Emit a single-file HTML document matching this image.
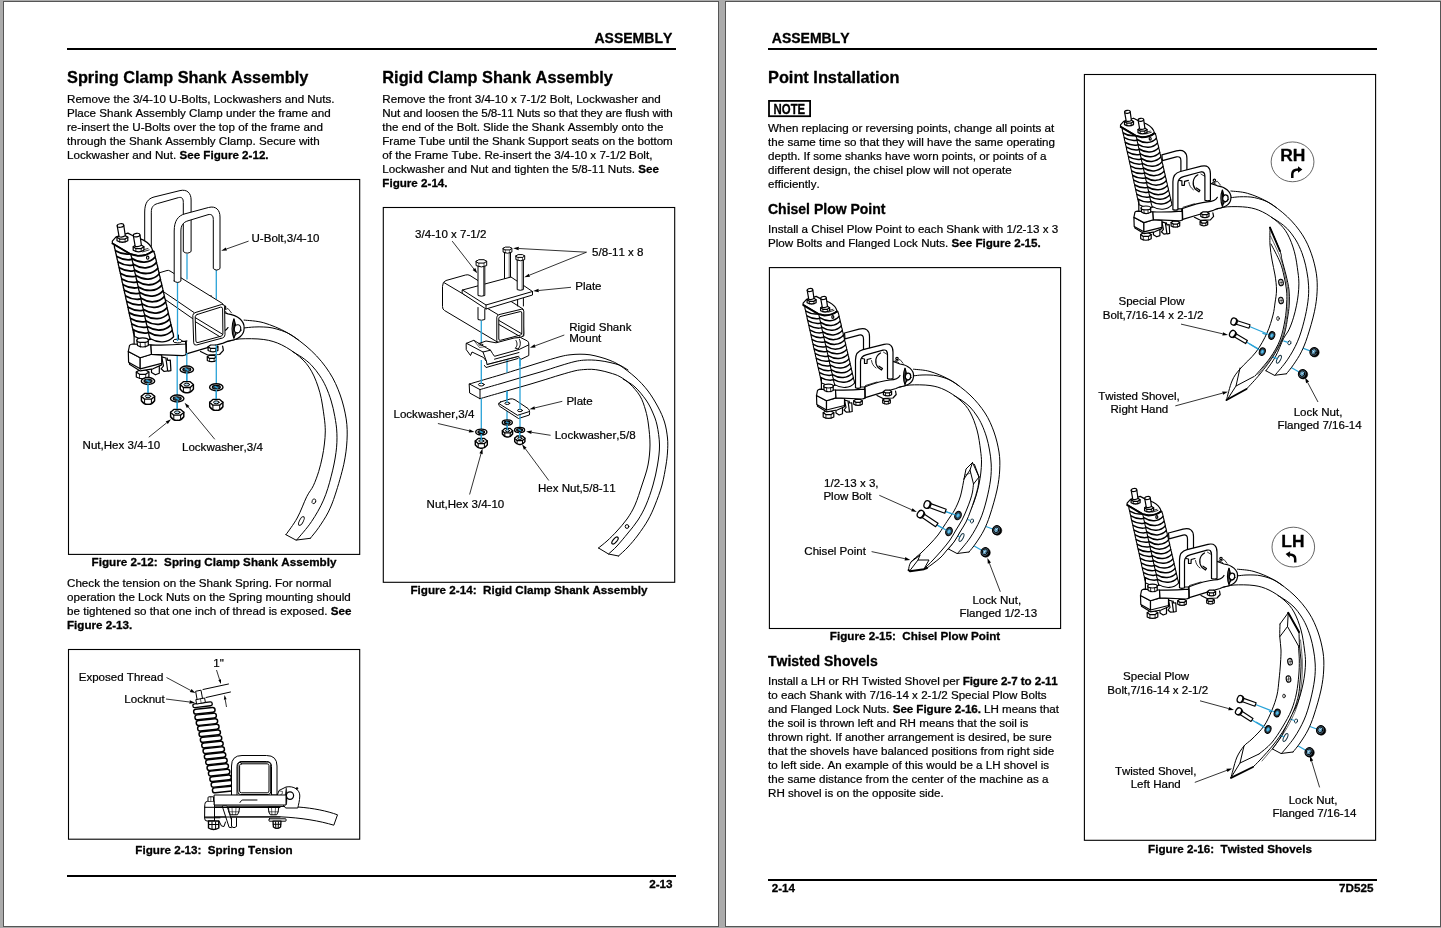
<!DOCTYPE html>
<html lang="en"><head><meta charset="utf-8"><title>Assembly 2-13 / 2-14</title>
<style>
html,body{margin:0;padding:0;background:#ababab;}
body{width:1441px;height:928px;overflow:hidden;}
svg{display:block;position:absolute;left:0;top:0;will-change:transform;}
text{font-family:"Liberation Sans",sans-serif;fill:#000;white-space:pre;font-kerning:none;stroke:#000;stroke-width:0.3px;stroke-linejoin:round;}
.b{font-size:11.63px;stroke-width:0.22px;}
.l{font-size:11.55px;stroke-width:0.22px;}
.bd{font-weight:bold;stroke-width:0.3px;}
.cap{font-size:11.66px;font-weight:bold;}
.h14{font-size:16.34px;font-weight:bold;}
.h12{font-size:14px;font-weight:bold;}
.note{font-size:14.2px;font-weight:bold;}
.h12s{font-size:14px;font-weight:bold;}
.rh{font-size:17.4px;font-weight:bold;}
.k{fill:none;stroke:#000;stroke-width:1;stroke-linecap:round;stroke-linejoin:round;}
.kw{fill:#fff;stroke:#000;stroke-width:1;stroke-linecap:round;stroke-linejoin:round;}
.kt{fill:none;stroke:#000;stroke-width:0.6;stroke-linecap:round;stroke-linejoin:round;}
.c{fill:none;stroke:#2aa3d8;stroke-width:1.3;}
.kb{fill:none;stroke:#000;stroke-width:1.9;stroke-linecap:round;stroke-linejoin:round;}
.kf{fill:#000;stroke:#000;stroke-width:0.5;}
.w{fill:#fff;stroke:none;}
.asm .k,.asm .kw{stroke-width:1.2;}
.asm .kt{stroke-width:0.8;}
.ld{fill:none;stroke:#000;stroke-width:0.8;}
.ah{fill:#000;stroke:none;}
</style></head>
<body>
<svg width="1441" height="928" viewBox="0 0 1441 928">
<rect x="0" y="0" width="1441" height="928" fill="#ababab"/>
<rect x="3.5" y="1.5" width="715" height="925" fill="#fff" stroke="#555" stroke-width="1"/>
<rect x="725.5" y="1.5" width="715" height="925" fill="#fff" stroke="#555" stroke-width="1"/>
<rect x="67" y="48.0" width="609" height="2" fill="#000"/>
<rect x="67" y="875.0" width="609" height="2" fill="#000"/>
<rect x="768" y="48.0" width="609" height="2" fill="#000"/>
<rect x="768" y="879.0" width="609" height="2" fill="#000"/>
<rect x="68.5" y="179.5" width="291.2" height="374.9" fill="none" stroke="#000" stroke-width="1.1"/>
<rect x="68.5" y="649.5" width="291.2" height="189.70000000000005" fill="none" stroke="#000" stroke-width="1.1"/>
<rect x="383.3" y="207.5" width="291.40000000000003" height="374.79999999999995" fill="none" stroke="#000" stroke-width="1.1"/>
<rect x="769.4" y="267.6" width="291.19999999999993" height="360.9" fill="none" stroke="#000" stroke-width="1.1"/>
<rect x="1084.4" y="74.5" width="291.1999999999998" height="765.8" fill="none" stroke="#000" stroke-width="1.1"/>
<text class="h12" x="672.3" y="43.1" text-anchor="end">ASSEMBLY</text>
<text class="h14" x="67" y="82.8">Spring Clamp Shank Assembly</text>
<text class="b" x="67" y="103.05">Remove the 3/4-10 U-Bolts, Lockwashers and Nuts.</text>
<text class="b" x="67" y="117.05">Place Shank Assembly Clamp under the frame and</text>
<text class="b" x="67" y="131.05">re-insert the U-Bolts over the top of the frame and</text>
<text class="b" x="67" y="145.05">through the Shank Assembly Clamp. Secure with</text>
<text class="b" x="67" y="159.05">Lockwasher and Nut. <tspan class="bd">See Figure 2-12.</tspan></text>
<text class="cap" x="214" y="565.9" text-anchor="middle">Figure 2-12:&#160; Spring Clamp Shank Assembly</text>
<text class="b" x="67" y="586.5">Check the tension on the Shank Spring. For normal</text>
<text class="b" x="67" y="600.5">operation the Lock Nuts on the Spring mounting should</text>
<text class="b" x="67" y="614.5">be tightened so that one inch of thread is exposed. <tspan class="bd">See</tspan></text>
<text class="b" x="67" y="628.5"><tspan class="bd">Figure 2-13.</tspan></text>
<text class="cap" x="214" y="854" text-anchor="middle">Figure 2-13:&#160; Spring Tension</text>
<text class="cap" x="672.6" y="887.8" text-anchor="end">2-13</text>
<text class="h14" x="382.3" y="82.8">Rigid Clamp Shank Assembly</text>
<text class="b" x="382.3" y="103.1">Remove the front 3/4-10 x 7-1/2 Bolt, Lockwasher and</text>
<text class="b" x="382.3" y="117.1" textLength="290.5" lengthAdjust="spacing">Nut and loosen the 5/8-11 Nuts so that they are flush with</text>
<text class="b" x="382.3" y="131.1">the end of the Bolt. Slide the Shank Assembly onto the</text>
<text class="b" x="382.3" y="145.1" textLength="290.5" lengthAdjust="spacing">Frame Tube until the Shank Support seats on the bottom</text>
<text class="b" x="382.3" y="159.1">of the Frame Tube. Re-insert the 3/4-10 x 7-1/2 Bolt,</text>
<text class="b" x="382.3" y="173.1">Lockwasher and Nut and tighten the 5/8-11 Nuts. <tspan class="bd">See</tspan></text>
<text class="b" x="382.3" y="187.1"><tspan class="bd">Figure 2-14.</tspan></text>
<text class="cap" x="529" y="594.1" text-anchor="middle">Figure 2-14:&#160; Rigid Clamp Shank Assembly</text>
<text class="l" x="251.5" y="242.3">U-Bolt,3/4-10</text>
<text class="l" x="82.6" y="448.8">Nut,Hex 3/4-10</text>
<text class="l" x="182" y="451">Lockwasher,3/4</text>
<text class="l" x="78.7" y="680.6">Exposed Thread</text>
<text class="l" x="124.3" y="702.6">Locknut</text>
<text class="l" x="213.3" y="666.8">1"</text>
<text class="l" x="415.1" y="238.2">3/4-10 x 7-1/2</text>
<text class="l" x="592.1" y="256">5/8-11 x 8</text>
<text class="l" x="575.2" y="290">Plate</text>
<text class="l" x="569.2" y="331">Rigid Shank</text>
<text class="l" x="569.2" y="342.1">Mount</text>
<text class="l" x="566.4" y="404.9">Plate</text>
<text class="l" x="393.5" y="418.1">Lockwasher,3/4</text>
<text class="l" x="554.7" y="438.9">Lockwasher,5/8</text>
<text class="l" x="537.9" y="491.8">Hex Nut,5/8-11</text>
<text class="l" x="426.6" y="507.7">Nut,Hex 3/4-10</text>
<text class="h12" x="771.8" y="43.2">ASSEMBLY</text>
<text class="h14" x="768" y="82.8">Point Installation</text>
<rect x="769" y="100.9" width="41.1" height="15.3" fill="none" stroke="#000" stroke-width="1.8"/>
<text class="note" x="773.6" y="113.9" textLength="31.6" lengthAdjust="spacingAndGlyphs">NOTE</text>
<text class="b" x="768" y="131.7">When replacing or reversing points, change all points at</text>
<text class="b" x="768" y="145.7">the same time so that they will have the same operating</text>
<text class="b" x="768" y="159.7">depth. If some shanks have worn points, or points of a</text>
<text class="b" x="768" y="173.7">different design, the chisel plow will not operate</text>
<text class="b" x="768" y="187.7">efficiently.</text>
<text class="h12s" x="768" y="213.7">Chisel Plow Point</text>
<text class="b" x="768" y="232.7">Install a Chisel Plow Point to each Shank with 1/2-13 x 3</text>
<text class="b" x="768" y="246.7">Plow Bolts and Flanged Lock Nuts. <tspan class="bd">See Figure 2-15.</tspan></text>
<text class="cap" x="915" y="639.8" text-anchor="middle">Figure 2-15:&#160; Chisel Plow Point</text>
<text class="h12s" x="768" y="665.7">Twisted Shovels</text>
<text class="b" x="768" y="684.6" textLength="289.8" lengthAdjust="spacing">Install a LH or RH Twisted Shovel per <tspan class="bd">Figure 2-7 to 2-11</tspan></text>
<text class="b" x="768" y="698.6">to each Shank with 7/16-14 x 2-1/2 Special Plow Bolts</text>
<text class="b" x="768" y="712.6" textLength="291.0" lengthAdjust="spacing">and Flanged Lock Nuts. <tspan class="bd">See Figure 2-16.</tspan> LH means that</text>
<text class="b" x="768" y="726.6">the soil is thrown left and RH means that the soil is</text>
<text class="b" x="768" y="740.6">thrown right. If another arrangement is desired, be sure</text>
<text class="b" x="768" y="754.6">that the shovels have balanced positions from right side</text>
<text class="b" x="768" y="768.6">to left side. An example of this would be a LH shovel is</text>
<text class="b" x="768" y="782.6">the same distance from the center of the machine as a</text>
<text class="b" x="768" y="796.6">RH shovel is on the opposite side.</text>
<text class="cap" x="1230" y="852.9" text-anchor="middle">Figure 2-16:&#160; Twisted Shovels</text>
<text class="cap" x="771.7" y="891.8">2-14</text>
<text class="cap" x="1373.4" y="891.8" text-anchor="end">7D525</text>
<text class="l" x="824" y="486.7">1/2-13 x 3,</text>
<text class="l" x="823.4" y="499.9">Plow Bolt</text>
<text class="l" x="804.3" y="555">Chisel Point</text>
<text class="l" x="972.4" y="604.4">Lock Nut,</text>
<text class="l" x="959.5" y="617.1">Flanged 1/2-13</text>
<text class="l" x="1118.5" y="304.9">Special Plow</text>
<text class="l" x="1102.7" y="318.9">Bolt,7/16-14 x 2-1/2</text>
<text class="l" x="1098.2" y="399.7">Twisted Shovel,</text>
<text class="l" x="1110.5" y="412.7">Right Hand</text>
<text class="l" x="1293.7" y="415.7">Lock Nut,</text>
<text class="l" x="1277.5" y="428.8">Flanged 7/16-14</text>
<text class="l" x="1123.1" y="679.8">Special Plow</text>
<text class="l" x="1107.3" y="693.7">Bolt,7/16-14 x 2-1/2</text>
<text class="l" x="1114.9" y="774.8">Twisted Shovel,</text>
<text class="l" x="1130.7" y="787.9">Left Hand</text>
<text class="l" x="1288.7" y="803.9">Lock Nut,</text>
<text class="l" x="1272.4" y="816.7">Flanged 7/16-14</text>
<ellipse cx="1292.55" cy="161.85" rx="21.4" ry="19.9" fill="#fff" stroke="#333" stroke-width="0.75"/>
<text class="rh" x="1292.8" y="161.0" text-anchor="middle">RH</text>
<ellipse cx="1293.3" cy="547.1" rx="21.3" ry="19.9" fill="#fff" stroke="#333" stroke-width="0.75"/>
<text class="rh" x="1292.9" y="546.6" text-anchor="middle">LH</text>
<!-- 10_fig12.svg -->
<path class="kw" d="M 144.7,246.0 L 144.7,212.0 C 144.7,203.0 148.0,198.6 154.0,197.0 L 180.0,190.6 C 187.0,189.0 191.1,193.0 191.1,200.0 L 191.1,251.5 Q 187.2,254.8 183.3,251.5 L 183.3,202.5 C 183.3,198.5 182.0,196.8 178.5,197.6 L 157.7,203.5 C 153.0,204.8 151.3,207.5 151.3,212.2 L 151.3,246.0 Z"/>
<path class="c" d="M 187.0,254.0 L 187.0,279.5"/>
<path class="w" d="M 244.1,320.1 L 263.8,322.8 L 287.7,333.0 L 311.5,350.9 L 329.4,372.4 L 340.2,395.0 L 346.2,418.9 L 347.0,440.4 L 343.8,464.3 L 335.4,494.1 L 328.3,512.1 L 318.7,527.6 L 310.3,538.3 L 296.0,540.1 L 285.9,534.7 L 297.2,518.0 L 306.8,496.5 L 313.3,485.8 L 318.7,471.5 L 322.3,457.1 L 324.4,444.0 L 325.3,430.9 L 324.1,416.5 L 319.9,392.7 L 311.5,371.2 L 299.6,356.8 L 281.7,344.9 L 263.8,339.5 L 239.9,338.9 L 227.4,341.6 Z"/>
<path class="k" d="M 244.1,320.1 C 247.4,320.5 256.5,320.7 263.8,322.8 C 271.0,325.0 279.7,328.3 287.7,333.0 C 295.6,337.6 304.6,344.3 311.5,350.9 C 318.5,357.4 324.7,365.0 329.4,372.4 C 334.2,379.7 337.4,387.3 340.2,395.0 C 343.0,402.8 345.0,411.4 346.2,418.9 C 347.3,426.5 347.4,432.9 347.0,440.4 C 346.6,448.0 345.7,455.3 343.8,464.3 C 341.8,473.3 338.0,486.2 335.4,494.1 C 332.8,502.1 331.0,506.5 328.3,512.1 C 325.5,517.6 321.7,523.2 318.7,527.6 C 315.7,532.0 311.7,536.5 310.3,538.3"/>
<path class="k" d="M 227.4,341.6 C 229.5,341.1 233.8,339.3 239.9,338.9 C 246.0,338.6 256.8,338.5 263.8,339.5 C 270.7,340.5 275.7,342.0 281.7,344.9 C 287.7,347.8 294.6,352.5 299.6,356.8 C 304.6,361.2 308.2,365.2 311.5,371.2 C 314.9,377.1 317.8,385.1 319.9,392.7 C 322.0,400.2 323.2,410.2 324.1,416.5 C 325.0,422.9 325.2,426.3 325.3,430.9 C 325.3,435.4 324.9,439.6 324.4,444.0 C 323.9,448.4 323.2,452.6 322.3,457.1 C 321.3,461.7 320.2,466.7 318.7,471.5 C 317.2,476.2 315.3,481.6 313.3,485.8 C 311.3,490.0 309.5,491.2 306.8,496.5 C 304.1,501.9 300.7,511.7 297.2,518.0 C 293.7,524.4 287.8,532.0 285.9,534.7"/>
<path class="k" d="M 292.4,351.5 C 294.0,352.5 298.8,355.1 302.0,357.4 C 305.2,359.7 308.6,362.1 311.5,365.2 C 314.5,368.3 317.5,372.4 319.9,375.9 C 322.3,379.5 324.0,382.5 325.9,386.7 C 327.8,390.9 329.7,396.0 331.2,401.0 C 332.7,406.0 333.9,411.2 334.8,416.5 C 335.8,421.9 336.7,427.3 336.9,433.3 C 337.1,439.2 337.0,445.2 336.0,452.4 C 335.1,459.5 333.3,468.3 331.2,476.2 C 329.2,484.2 326.8,492.6 323.5,500.1 C 320.2,507.7 316.0,514.9 311.5,521.6 C 307.1,528.3 299.1,537.0 296.6,540.1"/>
<path class="k" d="M 244.4,327.9 C 246.1,327.8 251.0,327.1 254.2,327.0 C 257.5,326.8 260.8,326.8 263.8,327.0 C 266.8,327.1 269.2,327.3 272.1,327.9 C 275.1,328.5 278.7,329.5 281.7,330.6 C 284.7,331.6 287.3,332.6 290.0,334.2 C 292.8,335.7 297.0,338.9 298.4,339.9"/>
<path class="k" d="M 310.3,538.3 L 296.0,540.1 L 285.9,534.7"/>
<ellipse class="k" cx="313.9" cy="501.3" rx="1.79" ry="2.51" transform="rotate(20 313.9 501.3)" style="fill:#fff;stroke-width:0.8"/>
<ellipse class="kw" cx="301.4" cy="521.0" rx="1.91" ry="4.78" transform="rotate(27 301.4 521.0)" style="stroke-width:0.9"/>
<g class="asm">
<path class="kw" d="M 185.6,341.3 L 178.4,341.3 L 178.4,303.1 L 211.2,295.9 L 216.0,309.1 L 220.8,311.2 L 228.0,313.9 C 237.5,315.1 244.7,321.0 244.1,328.2 C 244.1,335.3 238.7,339.5 228.0,341.1 L 223.2,343.1 L 204.1,348.7 L 185.6,354.2 Z"/>
<path class="k" d="M 204.7,300.7 C 198.1,304.3 197.5,312.7 201.7,318.0 L 205.9,321.0 L 207.1,319.2 L 202.9,316.5"/>
<path class="kt" d="M 193.9,309.7 C 194.5,313.9 196.3,316.5 199.3,318.6"/>
<path class="k" d="M 182.6,307.3 L 185.6,307.9 L 185.6,313.3 L 188.6,313.3 L 188.8,308.5 L 193.3,307.3"/>
<path class="kt" d="M 208.3,299.8 L 214.2,303.3"/>
<path class="kt" d="M 220.8,311.2 L 228.0,308.5 L 231.5,312.9"/>
<path class="k" d="M 185.6,341.3 C 198.1,336.5 207.7,333.6 216.0,333.0 C 222.0,332.7 226.2,331.2 228.0,327.6"/>
<path class="kt" d="M 186.8,339.5 L 200.5,335.3"/>
<path class="kw" d="M 233.9,318.9 L 235.5,324.6 L 235.8,333.0 L 233.9,338.3 C 231.5,333.0 231.5,324.6 233.9,318.9 Z"/>
<path class="kf" d="M 233.9,318.9 L 235.1,325.8 L 234.2,333.0 L 233.9,338.3 L 233.1,328.8 Z"/>
<ellipse class="kw" style="stroke-width:1.2" cx="237.5" cy="328.8" rx="3.22" ry="4.06" transform="rotate(8 237.5 328.8)"/>
<path class="kt" d="M 235.1,335.3 L 241.7,330.0"/>
<ellipse class="kw" cx="224.4" cy="307.3" rx="1.43" ry="1.43"/>
<path class="kt" d="M 222.0,309.7 L 226.2,312.1"/>
<path class="k" d="M 200.5,351.5 L 207.7,355.0 L 219.6,354.5 L 223.4,350.3 L 222.6,346.1"/>
<path class="kw" d="M 208.1,346.7 L 208.1,350.5 Q 213.0,353.3 217.9,350.5 L 217.9,346.7 Z"/>
<path class="kw" d="M 208.1,346.7 L 210.6,345.0 L 215.5,345.0 L 217.9,346.7 L 215.5,348.4 L 210.6,348.4 Z"/>
<path class="kt" d="M 210.6,348.4 L 210.6,351.7"/>
<path class="kt" d="M 215.5,348.4 L 215.5,351.7"/>
<path class="kw" d="M 207.3,356.8 L 207.3,360.4 Q 211.8,363.0 216.4,360.4 L 216.4,356.8 Z"/>
<path class="kw" d="M 207.3,356.8 L 209.6,355.3 L 214.1,355.3 L 216.4,356.8 L 214.1,358.4 L 209.6,358.4 Z"/>
<path class="kt" d="M 209.6,358.4 L 209.6,361.5"/>
<path class="kt" d="M 214.1,358.4 L 214.1,361.5"/>
</g>
<path class="w" d="M 160.0,272.5 L 167.0,270.5 L 170.0,271.0 L 224.0,304.0 L 225.0,337.0 L 194.0,345.2 L 163.0,324.0 L 159.0,292.0 Z"/>
<path class="k" d="M 157.0,273.5 L 167.0,270.5 Q 168.5,270.0 170.0,271.0 L 222.5,303.5"/>
<path class="k" d="M 161.0,290.0 L 194.0,312.5"/>
<path class="k" d="M 166.0,300.0 L 192.5,318.5"/>
<path class="kw" d="M 195.5,312.5 L 221.5,304.5 Q 224.5,303.7 224.6,306.8 L 225.0,334.5 Q 225.0,337.2 222.5,338.0 L 196.5,345.0 Q 193.8,345.6 193.7,342.8 L 192.8,315.5 Q 192.8,313.2 195.5,312.5 Z"/>
<path class="k" d="M 197.2,314.5 L 220.5,307.2 Q 222.5,306.7 222.6,308.8 L 222.9,333.8 Q 222.9,335.6 221.0,336.2 L 198.0,342.5 Q 196.0,343.0 195.9,341.0 L 195.2,316.8 Q 195.2,315.1 197.2,314.5 Z"/>
<path class="k" d="M 195.5,317.8 L 222.5,334.2"/>
<path class="k" d="M 195.5,321.8 L 220.0,336.8"/>
<g class="asm">
<path d="M 114.3,245.2 Q 114.3,248.1 115.5,250.8 Q 115.6,253.7 116.8,256.5 Q 116.8,259.3 118.1,262.1 Q 118.1,265.0 119.3,267.8 Q 119.3,270.6 120.6,273.4 Q 120.6,276.3 121.8,279.0 Q 121.8,281.9 123.1,284.7 Q 123.1,287.5 124.3,290.3 Q 124.3,293.2 125.6,295.9 Q 125.6,298.8 126.8,301.6 Q 126.9,304.4 128.1,307.2 Q 128.1,310.1 129.3,312.9 Q 129.4,315.7 130.6,318.5 Q 130.6,321.4 131.8,324.1 Q 131.9,327.0 133.1,329.8 Q 133.1,332.6 134.3,335.4 Q 133.9,336.0 134.6,336.5 C 143.1,341.5 152.8,340.9 158.8,335.0 Q 158.8,332.1 157.5,329.4 Q 157.5,326.5 156.2,323.7 Q 156.2,320.9 154.9,318.1 Q 154.9,315.2 153.6,312.4 Q 153.6,309.6 152.3,306.8 Q 152.3,303.9 151.0,301.2 Q 151.0,298.3 149.7,295.5 Q 149.7,292.7 148.4,289.9 Q 148.4,287.0 147.2,284.2 Q 147.1,281.4 145.9,278.6 Q 145.8,275.7 144.6,273.0 Q 144.5,270.1 143.3,267.3 Q 143.2,264.5 142.0,261.7 Q 141.9,258.8 140.7,256.1 Q 140.6,253.2 139.4,250.4 Q 139.3,247.6 138.1,244.8 Q 138.5,244.2 137.8,243.6 Z" fill="#fff" stroke="#000" stroke-width="1.31" stroke-linejoin="round"/>
<path d="M 115.5,250.8 C 123.8,255.8 133.3,255.2 139.1,249.3 M 116.8,256.5 C 125.1,261.4 134.6,260.8 140.4,254.9 M 118.1,262.1 C 126.4,267.1 135.8,266.5 141.7,260.6 M 119.3,267.8 C 127.6,272.7 137.1,272.1 143.0,266.2 M 120.6,273.4 C 128.9,278.3 138.4,277.7 144.3,271.8 M 121.8,279.0 C 130.2,284.0 139.7,283.4 145.6,277.5 M 123.1,284.7 C 131.4,289.6 141.0,289.0 146.9,283.1 M 124.3,290.3 C 132.7,295.3 142.3,294.6 148.2,288.8 M 125.6,295.9 C 134.0,300.9 143.5,300.3 149.5,294.4 M 126.8,301.6 C 135.2,306.5 144.8,305.9 150.8,300.0 M 128.1,307.2 C 136.5,312.2 146.1,311.6 152.1,305.7 M 129.3,312.9 C 137.8,317.8 147.4,317.2 153.4,311.3 M 130.6,318.5 C 139.0,323.5 148.7,322.8 154.7,316.9 M 131.8,324.1 C 140.3,329.1 150.0,328.5 156.0,322.6 M 133.1,329.8 C 141.6,334.7 151.2,334.1 157.3,328.2" fill="none" stroke="#000" stroke-width="1.79" stroke-linecap="round"/>
<path class="k" d="M 134.1,330.0 L 134.1,343.7"/>
<path d="M 130.8,253.0 Q 130.8,255.8 132.0,258.6 Q 132.1,261.5 133.3,264.3 Q 133.4,267.2 134.6,269.9 Q 134.6,272.8 135.9,275.6 Q 135.9,278.5 137.1,281.3 Q 137.2,284.1 138.4,286.9 Q 138.4,289.8 139.7,292.6 Q 139.7,295.5 141.0,298.3 Q 141.0,301.1 142.2,303.9 Q 142.3,306.8 143.5,309.6 Q 143.5,312.4 144.8,315.2 Q 144.8,318.1 146.0,320.9 Q 146.1,323.8 147.3,326.6 Q 147.4,329.4 148.6,332.2 Q 148.6,335.1 149.9,337.9 Q 149.3,338.2 150.0,338.5 C 158.4,343.6 167.9,342.9 173.6,336.7 Q 173.6,333.8 172.3,331.0 Q 172.3,328.2 171.0,325.4 Q 170.9,322.5 169.7,319.7 Q 169.6,316.9 168.4,314.1 Q 168.3,311.2 167.1,308.4 Q 167.0,305.6 165.8,302.8 Q 165.7,299.9 164.4,297.1 Q 164.4,294.3 163.1,291.5 Q 163.1,288.6 161.8,285.8 Q 161.8,283.0 160.5,280.2 Q 160.4,277.3 159.2,274.6 Q 159.1,271.7 157.9,268.9 Q 157.8,266.0 156.6,263.3 Q 156.5,260.4 155.3,257.6 Q 155.2,254.8 153.9,252.0 Q 154.5,251.7 153.8,251.4 Z" fill="#fff" stroke="#000" stroke-width="1.31" stroke-linejoin="round"/>
<path d="M 132.0,258.6 C 140.3,263.9 149.5,263.3 155.1,257.1 M 133.3,264.3 C 141.6,269.5 150.8,268.9 156.4,262.7 M 134.6,269.9 C 142.8,275.2 152.1,274.6 157.8,268.3 M 135.9,275.6 C 144.1,280.9 153.4,280.2 159.1,274.0 M 137.1,281.3 C 145.4,286.5 154.7,285.9 160.4,279.6 M 138.4,286.9 C 146.7,292.2 156.0,291.5 161.7,285.3 M 139.7,292.6 C 148.0,297.8 157.3,297.2 163.0,290.9 M 141.0,298.3 C 149.3,303.5 158.6,302.8 164.3,296.6 M 142.2,303.9 C 150.6,309.1 159.9,308.5 165.6,302.2 M 143.5,309.6 C 151.8,314.8 161.2,314.1 166.9,307.9 M 144.8,315.2 C 153.1,320.4 162.5,319.8 168.3,313.5 M 146.0,320.9 C 154.4,326.1 163.8,325.4 169.6,319.2 M 147.3,326.6 C 155.7,331.8 165.1,331.1 170.9,324.8 M 148.6,332.2 C 157.0,337.4 166.4,336.7 172.2,330.5" fill="none" stroke="#000" stroke-width="1.79" stroke-linecap="round"/>
<path class="kw" style="stroke-width:1.2" d="M 112.3,241.1 L 116.3,236.7 L 127.9,233.1 L 132.4,235.5 L 143.4,240.1 C 149.2,243.2 151.8,246.5 152.7,250.6 C 149.2,253.7 143.2,255.6 137.8,255.6 L 130.6,253.9 L 112.4,243.2 Z"/>
<path class="kb" d="M 112.5,243.5 L 130.6,254.3 L 137.8,255.9 C 143.2,255.9 149.2,254.2 152.7,251.1"/>
<path class="kt" d="M 141.4,250.3 L 148.0,248.5"/>
<path class="kt" d="M 142.6,251.9 L 149.2,249.9"/>
<ellipse class="kw" cx="147.7" cy="257.7" rx="1.19" ry="1.55"/>
<path class="kw" style="stroke-width:1.25" d="M 117.0,237.2 L 117.0,240.8 Q 122.4,243.7 127.8,240.8 L 127.8,237.2 Z"/>
<path class="kw" style="stroke-width:1.25" d="M 117.0,237.2 L 119.7,235.4 L 125.1,235.4 L 127.8,237.2 L 125.1,239.0 L 119.7,239.0 Z"/>
<path class="kt" d="M 119.7,239.0 L 119.7,242.1"/>
<path class="kt" d="M 125.1,239.0 L 125.1,242.1"/>
<path class="kw" d="M 117.2,225.9 L 119.1,236.7 Q 122.2,237.7 125.3,235.8 L 123.8,225.5 Z"/>
<ellipse class="kw" style="stroke-width:1.2" cx="120.5" cy="225.5" rx="3.34" ry="1.79" transform="rotate(-8 120.5 225.5)"/>
<path class="kw" style="stroke-width:1.25" d="M 133.2,246.8 L 133.2,250.3 Q 138.5,253.3 143.9,250.3 L 143.9,246.8 Z"/>
<path class="kw" style="stroke-width:1.25" d="M 133.2,246.8 L 135.8,244.9 L 141.2,244.9 L 143.9,246.8 L 141.2,248.6 L 135.8,248.6 Z"/>
<path class="kt" d="M 135.8,248.6 L 135.8,251.6"/>
<path class="kt" d="M 141.2,248.6 L 141.2,251.6"/>
<path class="kw" d="M 133.3,235.4 L 135.2,246.3 Q 138.3,247.2 141.4,245.3 L 140.0,235.1 Z"/>
<ellipse class="kw" style="stroke-width:1.2" cx="136.6" cy="235.1" rx="3.34" ry="1.79" transform="rotate(-8 136.6 235.1)"/>
<path class="kw" d="M 136.3,372.1 L 136.3,377.1 Q 142.6,380.6 148.9,377.1 L 148.9,372.1 Z"/>
<path class="kw" d="M 136.3,372.1 L 139.5,369.9 L 145.7,369.9 L 148.9,372.1 L 145.7,374.3 L 139.5,374.3 Z"/>
<path class="kt" d="M 139.5,374.3 L 139.5,378.6"/>
<path class="kt" d="M 145.7,374.3 L 145.7,378.6"/>
<path class="kw" d="M 151.5,368.8 L 151.5,372.4 L 155.4,374.8 L 159.3,373.3 L 159.3,365.8"/>
<path class="kw" d="M 161.7,356.8 L 163.5,365.8 L 161.1,368.8 L 164.1,371.5 L 167.7,370.9 L 165.9,358.0 Z"/>
<path class="k" d="M 167.1,358.0 L 167.7,360.4 L 170.3,360.1 L 170.9,370.6 L 168.3,371.2"/>
<path class="kw" d="M 129.5,362.2 L 129.5,364.3 L 140.2,370.9 L 153.0,368.8 L 161.7,364.9 L 161.7,363.4"/>
<path class="kw" d="M 128.3,351.5 L 140.2,357.7 L 140.2,368.8 L 128.6,362.3 Z"/>
<path class="kw" d="M 140.2,357.7 L 151.5,354.3 L 161.7,355.0 L 161.7,363.4 L 140.2,368.8 Z"/>
<path class="kw" d="M 128.3,351.5 L 129.5,345.5 Q 130.1,344.4 132.4,344.0 L 150.9,344.9 L 151.5,354.3 L 140.2,357.7 Z"/>
<path class="kw" d="M 136.9,340.4 L 137.5,345.5 Q 142.6,348.5 148.3,345.5 L 148.3,340.4 Z"/>
<ellipse class="kw" cx="142.6" cy="340.2" rx="5.73" ry="2.27"/>
<path class="kt" d="M 140.2,342.4 L 140.5,347.0"/>
<path class="kt" d="M 145.0,342.4 L 145.3,347.0"/>
<path class="kw" d="M 150.9,344.9 Q 165.9,345.6 185.6,344.0 L 186.2,341.3 L 186.5,354.2 Q 185.0,355.5 182.6,355.6 L 151.5,354.3 Z"/>
<path class="k" d="M 185.9,344.3 L 186.2,354.5"/>
</g>
<ellipse class="kw" cx="177.5" cy="341.0" rx="4.40" ry="1.90"/>
<path class="c" d="M 177.5,282.0 L 177.5,341.0"/>
<path class="c" d="M 177.2,356.0 L 177.2,415.0"/>
<path class="c" d="M 186.8,353.0 L 186.8,388.0"/>
<path class="c" d="M 216.3,270.0 L 216.3,299.0"/>
<path class="c" d="M 216.3,345.0 L 216.3,405.0"/>
<path class="c" d="M 148.0,377.0 L 148.0,399.0"/>
<path class="kw" d="M 174.2,281.0 L 174.2,231.0 C 174.2,221.0 178.0,215.6 185.0,213.8 L 208.5,207.5 C 216.0,205.6 220.0,210.0 220.0,217.0 L 220.0,268.5 Q 216.6,271.6 213.3,268.5 L 213.3,219.5 C 213.3,215.5 211.5,213.8 208.0,214.7 L 188.0,220.8 C 183.0,222.3 180.9,225.5 180.9,231.0 L 180.9,281.0 Q 177.5,284.0 174.2,281.0 Z"/>
<ellipse class="k" cx="148.0" cy="381.0" rx="6.70" ry="3.50" style="fill:#fff;stroke-width:1.4"/>
<ellipse class="k" cx="148.0" cy="381.0" rx="4.02" ry="1.82" style="fill:#2c3e4a;stroke-width:1.1"/>
<path class="c" d="M 146.3,379.9 L 149.7,382.1"/>
<path class="kw" style="stroke-width:1.45" d="M 141.4,396.3 L 141.4,400.8 Q 144.4,404.9 148.0,404.3 Q 151.6,404.9 154.6,400.8 L 154.6,396.3 Z"/>
<path class="kw" style="stroke-width:1.3" d="M 141.4,396.3 L 144.6,393.4 L 151.4,393.4 L 154.6,396.3 L 151.4,399.2 L 144.6,399.2 Z"/>
<path class="k" d="M 144.6,399.2 L 144.6,403.3"/>
<path class="k" d="M 151.4,399.2 L 151.4,403.3"/>
<ellipse class="k" cx="148.0" cy="396.3" rx="2.77" ry="1.46" style="fill:#bfe2f3;stroke-width:1"/>
<ellipse class="k" cx="186.8" cy="369.5" rx="6.70" ry="3.50" style="fill:#fff;stroke-width:1.4"/>
<ellipse class="k" cx="186.8" cy="369.5" rx="4.02" ry="1.82" style="fill:#2c3e4a;stroke-width:1.1"/>
<path class="c" d="M 185.1,368.4 L 188.5,370.6"/>
<path class="kw" style="stroke-width:1.45" d="M 180.2,384.6 L 180.2,389.1 Q 183.2,393.2 186.8,392.6 Q 190.4,393.2 193.4,389.1 L 193.4,384.6 Z"/>
<path class="kw" style="stroke-width:1.3" d="M 180.2,384.6 L 183.4,381.7 L 190.2,381.7 L 193.4,384.6 L 190.2,387.5 L 183.4,387.5 Z"/>
<path class="k" d="M 183.4,387.5 L 183.4,391.6"/>
<path class="k" d="M 190.2,387.5 L 190.2,391.6"/>
<ellipse class="k" cx="186.8" cy="384.6" rx="2.77" ry="1.46" style="fill:#bfe2f3;stroke-width:1"/>
<ellipse class="k" cx="177.2" cy="398.5" rx="6.70" ry="3.50" style="fill:#fff;stroke-width:1.4"/>
<ellipse class="k" cx="177.2" cy="398.5" rx="4.02" ry="1.82" style="fill:#2c3e4a;stroke-width:1.1"/>
<path class="c" d="M 175.5,397.4 L 178.9,399.6"/>
<path class="kw" style="stroke-width:1.45" d="M 170.6,412.3 L 170.6,416.8 Q 173.6,420.9 177.2,420.3 Q 180.8,420.9 183.8,416.8 L 183.8,412.3 Z"/>
<path class="kw" style="stroke-width:1.3" d="M 170.6,412.3 L 173.8,409.4 L 180.6,409.4 L 183.8,412.3 L 180.6,415.2 L 173.8,415.2 Z"/>
<path class="k" d="M 173.8,415.2 L 173.8,419.3"/>
<path class="k" d="M 180.6,415.2 L 180.6,419.3"/>
<ellipse class="k" cx="177.2" cy="412.3" rx="2.77" ry="1.46" style="fill:#bfe2f3;stroke-width:1"/>
<ellipse class="k" cx="216.3" cy="387.2" rx="6.70" ry="3.50" style="fill:#fff;stroke-width:1.4"/>
<ellipse class="k" cx="216.3" cy="387.2" rx="4.02" ry="1.82" style="fill:#2c3e4a;stroke-width:1.1"/>
<path class="c" d="M 214.6,386.1 L 218.0,388.2"/>
<path class="kw" style="stroke-width:1.45" d="M 209.7,402.3 L 209.7,406.8 Q 212.7,410.9 216.3,410.3 Q 219.9,410.9 222.9,406.8 L 222.9,402.3 Z"/>
<path class="kw" style="stroke-width:1.3" d="M 209.7,402.3 L 212.9,399.4 L 219.7,399.4 L 222.9,402.3 L 219.7,405.2 L 212.9,405.2 Z"/>
<path class="k" d="M 212.9,405.2 L 212.9,409.3"/>
<path class="k" d="M 219.7,405.2 L 219.7,409.3"/>
<ellipse class="k" cx="216.3" cy="402.3" rx="2.77" ry="1.46" style="fill:#bfe2f3;stroke-width:1"/>
<path class="c" d="M 148.0,383.0 L 148.0,393.0"/>
<path class="c" d="M 186.8,371.5 L 186.8,381.0"/>
<path class="c" d="M 177.2,400.5 L 177.2,409.0"/>
<path class="c" d="M 216.3,389.2 L 216.3,399.0"/>
<path class="ld" d="M248.6,241.1 L226.4,249.0"/>
<path class="ah" d="M221.2,250.8 L225.8,247.4 L227.0,250.6 Z"/>
<path class="ld" d="M214.8,439.3 L188.1,406.9"/>
<path class="ah" d="M184.6,402.7 L189.4,405.9 L186.8,408.0 Z"/>
<path class="ld" d="M148.8,437.2 L166.7,422.8"/>
<path class="ah" d="M171.0,419.3 L167.8,424.1 L165.7,421.4 Z"/>

<!-- 20_fig13.svg -->
<path class="kw" d="M 286.0,806.5 L 298.0,807.0 C 314.0,808.2 327.0,811.0 337.5,814.8 L 333.8,825.2 C 320.0,821.0 302.0,817.8 280.0,816.8 L 205.0,817.0 L 205.0,806.5 Z"/>
<path class="kw" d="M 277.0,796.0 L 279.0,790.5 L 286.0,787.0 C 294.0,785.5 300.0,790.0 299.8,796.0 C 299.6,801.0 298.5,804.5 297.8,808.0 L 286.0,808.0 Z"/>
<path class="kf" d="M 286.2,787.5 L 287.3,795.5 L 286.5,804.5 L 285.2,795.5 Z"/>
<ellipse class="kw" cx="290.0" cy="795.6" rx="3.60" ry="3.70" style="stroke-width:1.2"/>
<ellipse class="kf" cx="297.0" cy="788.4" rx="1.00" ry="1.00"/>
<path class="kt" d="M 279.5,791.0 L 282.5,791.5 L 282.2,794.0 L 280.8,794.5"/>
<path class="kw" d="M 204.8,804.0 Q 204.8,801.5 207.5,801.3 L 214.5,801.0 L 214.5,821.0 L 207.0,821.0 Q 204.6,821.0 204.6,818.5 Z"/>
<path class="k" d="M 205.0,807.3 L 214.5,807.3"/>
<path class="k" d="M 205.0,817.8 L 220.0,817.8"/>
<path class="kw" d="M 208.0,801.0 L 208.0,797.8 Q 208.0,796.8 209.0,796.8 L 213.5,796.8 L 213.5,801.0"/>
<path class="kt" d="M 210.8,797.0 L 210.8,801.0"/>
<path class="kw" style="stroke-width:1.4" d="M 208.5,821.0 L 208.5,828.0 Q 213.5,831.0 218.8,828.0 L 218.8,821.0 Z"/>
<path class="k" d="M 212.0,822.0 L 212.0,829.0"/>
<path class="k" d="M 215.6,822.0 L 215.6,829.0"/>
<path class="k" d="M 208.5,824.5 L 218.8,824.5"/>
<path class="k" d="M 219.0,821.0 L 221.5,826.0 L 224.0,826.5 L 225.5,822.0"/>
<path class="kw" d="M 222.6,806.0 L 227.0,806.0 L 233.5,826.0 Q 232.0,828.5 229.5,827.5 Z"/>
<path class="kw" d="M 231.5,818.0 L 231.5,826.5 Q 234.0,829.0 236.5,826.5 L 236.5,818.0"/>
<path class="kw" d="M 228.5,807.5 L 229.1,812.0 L 230.5,814.8 L 237.5,814.8 L 238.9,812.0 L 239.5,807.5 Z"/>
<path class="kt" d="M 229.0,811.8 L 239.0,811.8"/>
<path class="kt" d="M 232.0,807.8 L 232.4,814.6"/>
<path class="kt" d="M 236.0,807.8 L 235.6,814.6"/>
<path class="kw" d="M 268.3,807.5 L 268.9,812.0 L 270.3,814.8 L 276.7,814.8 L 278.1,812.0 L 278.7,807.5 Z"/>
<path class="kt" d="M 268.8,811.8 L 278.2,811.8"/>
<path class="kt" d="M 271.5,807.8 L 271.9,814.6"/>
<path class="kt" d="M 275.5,807.8 L 275.1,814.6"/>
<path class="k" d="M 205.0,817.0 L 280.0,817.0"/>
<rect class="kw" x="269.0" y="818.8" width="17.0" height="2.4" rx="0.4"/>
<path class="kw" style="stroke-width:1.3" d="M 273.0,821.2 L 273.4,827.0 Q 277.0,829.8 280.6,827.0 L 281.0,821.2 Z"/>
<path class="k" d="M 275.6,822.0 L 275.8,828.0"/>
<path class="k" d="M 278.4,822.0 L 278.2,828.0"/>
<path class="k" d="M 273.2,824.3 L 280.8,824.3"/>
<rect x="193.6" y="708.3" width="21.5" height="4.9" rx="2.5" fill="#fff" stroke="#000" stroke-width="1.45" transform="rotate(-6 204.3 710.8)"/>
<rect x="194.9" y="714.0" width="21.5" height="4.9" rx="2.5" fill="#fff" stroke="#000" stroke-width="1.45" transform="rotate(-6 205.7 716.4)"/>
<rect x="196.2" y="719.6" width="21.5" height="4.9" rx="2.5" fill="#fff" stroke="#000" stroke-width="1.45" transform="rotate(-6 207.0 722.0)"/>
<rect x="197.6" y="725.2" width="21.5" height="4.9" rx="2.5" fill="#fff" stroke="#000" stroke-width="1.45" transform="rotate(-6 208.3 727.7)"/>
<rect x="199.0" y="730.8" width="21.5" height="4.9" rx="2.5" fill="#fff" stroke="#000" stroke-width="1.45" transform="rotate(-6 209.7 733.3)"/>
<rect x="200.3" y="736.5" width="21.5" height="4.9" rx="2.5" fill="#fff" stroke="#000" stroke-width="1.45" transform="rotate(-6 211.1 738.9)"/>
<rect x="201.7" y="742.1" width="21.5" height="4.9" rx="2.5" fill="#fff" stroke="#000" stroke-width="1.45" transform="rotate(-6 212.4 744.5)"/>
<rect x="203.0" y="747.7" width="21.5" height="4.9" rx="2.5" fill="#fff" stroke="#000" stroke-width="1.45" transform="rotate(-6 213.8 750.1)"/>
<rect x="204.3" y="753.3" width="21.5" height="4.9" rx="2.5" fill="#fff" stroke="#000" stroke-width="1.45" transform="rotate(-6 215.1 755.8)"/>
<rect x="205.7" y="758.9" width="21.5" height="4.9" rx="2.5" fill="#fff" stroke="#000" stroke-width="1.45" transform="rotate(-6 216.4 761.4)"/>
<rect x="207.0" y="764.6" width="21.5" height="4.9" rx="2.5" fill="#fff" stroke="#000" stroke-width="1.45" transform="rotate(-6 217.8 767.0)"/>
<rect x="208.4" y="770.2" width="21.5" height="4.9" rx="2.5" fill="#fff" stroke="#000" stroke-width="1.45" transform="rotate(-6 219.2 772.6)"/>
<rect x="209.8" y="775.8" width="21.5" height="4.9" rx="2.5" fill="#fff" stroke="#000" stroke-width="1.45" transform="rotate(-6 220.5 778.3)"/>
<rect x="211.1" y="781.4" width="21.5" height="4.9" rx="2.5" fill="#fff" stroke="#000" stroke-width="1.45" transform="rotate(-6 221.8 783.9)"/>
<rect x="212.4" y="787.0" width="21.5" height="4.9" rx="2.5" fill="#fff" stroke="#000" stroke-width="1.45" transform="rotate(-6 223.2 789.5)"/>
<path class="kw" d="M 231.5,795.0 L 231.5,766.0 Q 231.5,755.5 242.0,755.5 L 266.5,755.5 Q 277.0,755.5 277.0,766.0 L 277.0,795.0 L 271.5,795.0 L 271.5,766.5 Q 271.5,761.5 266.5,761.5 L 242.0,761.5 Q 237.0,761.5 237.0,766.5 L 237.0,795.0 Z"/>
<rect class="kw" x="237.9" y="762.1" width="32.8" height="32.4" rx="2.6"/>
<rect class="k" x="239.6" y="763.8" width="29.4" height="29.0" rx="1.8"/>
<path class="kw" d="M 214.5,795.0 L 286.0,795.0 L 286.0,805.0 L 214.5,805.0 Z"/>
<path class="k" d="M 240.0,802.5 L 241.5,800.4 Q 242.0,800.0 243.0,800.0 L 257.0,800.0"/>
<path class="k" d="M 214.5,807.5 L 280.0,807.5"/>
<rect x="192.8" y="702.9" width="19.5" height="3.8" rx="1.9" fill="#fff" stroke="#000" stroke-width="1.3" transform="rotate(-7 202.6 704.8)"/>
<path class="kw" d="M 196.0,691.2 L 201.0,690.2 L 202.6,699.0 L 197.6,700.0 Z"/>
<path class="kw" d="M 196.2,699.6 L 204.6,698.0 L 205.4,702.4 L 197.0,704.0 Z"/>
<path class="kt" d="M 200.4,698.9 L 201.2,703.2"/>
<path class="k" d="M 203.0,689.5 L 228.5,684.0"/>
<path class="k" d="M 206.0,697.5 L 230.5,692.0"/>
<path class="ld" d="M216.5,670.0 L219.6,679.7"/>
<path class="ah" d="M221.0,684.0 L218.3,680.1 L221.0,679.3 Z"/>
<path class="ld" d="M226.5,707.0 L225.2,699.4"/>
<path class="ah" d="M224.5,695.0 L226.6,699.2 L223.9,699.7 Z"/>
<path class="ld" d="M166.5,677.5 L190.6,690.4"/>
<path class="ah" d="M195.5,693.0 L189.8,691.9 L191.5,688.9 Z"/>
<path class="ld" d="M166.0,699.0 L189.5,702.0"/>
<path class="ah" d="M195.0,702.7 L189.3,703.7 L189.8,700.3 Z"/>

<!-- 30_fig14.svg -->
<path class="w" d="M 469.5,384.0 L 500.0,375.0 L 520.0,368.8 L 540.0,362.5 L 560.0,356.7 L 570.0,354.8 L 580.0,354.2 L 590.0,354.8 L 600.0,357.1 L 610.0,360.4 L 620.0,365.5 L 635.0,377.0 L 648.0,391.0 L 658.0,407.0 L 664.5,422.0 L 667.5,438.0 L 667.5,452.0 L 666.0,465.0 L 662.0,485.0 L 655.0,505.0 L 648.0,520.0 L 638.0,535.0 L 628.0,547.0 L 618.5,556.0 L 608.5,554.0 L 598.5,548.0 L 607.0,541.0 L 617.0,531.0 L 627.0,519.0 L 635.0,505.0 L 642.0,485.0 L 648.0,465.0 L 650.0,445.0 L 648.5,425.0 L 645.5,410.0 L 640.0,396.0 L 630.0,384.0 L 620.0,376.7 L 610.0,372.9 L 600.0,370.4 L 591.7,369.3 L 583.3,369.6 L 575.0,370.8 L 560.0,375.0 L 540.0,381.2 L 520.0,387.1 L 500.0,392.9 L 480.0,398.7 L 470.0,393.0 Z"/>
<path class="k" d="M 469.5,384.0 C 474.6,382.5 491.6,377.5 500.0,375.0 C 508.4,372.5 513.3,370.8 520.0,368.8 C 526.7,366.7 533.3,364.5 540.0,362.5 C 546.7,360.5 555.0,358.0 560.0,356.7 C 565.0,355.4 566.7,355.2 570.0,354.8 C 573.3,354.4 576.7,354.2 580.0,354.2 C 583.3,354.2 586.7,354.3 590.0,354.8 C 593.3,355.3 596.7,356.2 600.0,357.1 C 603.3,358.0 606.7,359.0 610.0,360.4 C 613.3,361.8 615.8,362.7 620.0,365.5 C 624.2,368.3 630.3,372.8 635.0,377.0 C 639.7,381.2 644.2,386.0 648.0,391.0 C 651.8,396.0 655.2,401.8 658.0,407.0 C 660.8,412.2 662.9,416.8 664.5,422.0 C 666.1,427.2 667.0,433.0 667.5,438.0 C 668.0,443.0 667.8,447.5 667.5,452.0 C 667.2,456.5 666.9,459.5 666.0,465.0 C 665.1,470.5 663.8,478.3 662.0,485.0 C 660.2,491.7 657.3,499.2 655.0,505.0 C 652.7,510.8 650.8,515.0 648.0,520.0 C 645.2,525.0 641.3,530.5 638.0,535.0 C 634.7,539.5 631.2,543.5 628.0,547.0 C 624.8,550.5 620.1,554.5 618.5,556.0"/>
<path class="k" d="M 480.0,389.6 C 483.3,388.6 493.3,385.7 500.0,383.8 C 506.7,381.8 513.3,379.8 520.0,377.9 C 526.7,376.0 533.3,374.1 540.0,372.1 C 546.7,370.1 554.2,367.6 560.0,365.8 C 565.8,364.0 571.1,362.4 575.0,361.5 C 578.9,360.6 580.5,360.5 583.3,360.2 C 586.1,360.0 588.9,359.9 591.7,360.0 C 594.5,360.1 597.0,360.3 600.0,360.7 C 603.0,361.1 606.7,361.7 610.0,362.5 C 613.3,363.3 617.0,364.1 620.0,365.3 C 623.0,366.6 626.7,369.2 628.0,370.0"/>
<path class="k" d="M 480.0,398.7 C 483.3,397.7 493.3,394.8 500.0,392.9 C 506.7,391.0 513.3,389.0 520.0,387.1 C 526.7,385.2 533.3,383.3 540.0,381.2 C 546.7,379.2 554.2,376.7 560.0,375.0 C 565.8,373.3 571.1,371.7 575.0,370.8 C 578.9,369.9 580.5,369.9 583.3,369.6 C 586.1,369.4 588.9,369.2 591.7,369.3 C 594.5,369.4 597.0,369.8 600.0,370.4 C 603.0,371.0 606.7,371.8 610.0,372.9 C 613.3,373.9 616.7,374.8 620.0,376.7 C 623.3,378.6 626.7,380.8 630.0,384.0 C 633.3,387.2 637.4,391.7 640.0,396.0 C 642.6,400.3 644.1,405.2 645.5,410.0 C 646.9,414.8 647.8,419.2 648.5,425.0 C 649.2,430.8 650.1,438.3 650.0,445.0 C 649.9,451.7 649.3,458.3 648.0,465.0 C 646.7,471.7 644.2,478.3 642.0,485.0 C 639.8,491.7 637.5,499.3 635.0,505.0 C 632.5,510.7 630.0,514.7 627.0,519.0 C 624.0,523.3 620.3,527.3 617.0,531.0 C 613.7,534.7 610.1,538.2 607.0,541.0 C 603.9,543.8 599.9,546.8 598.5,548.0"/>
<path class="k" d="M 623.0,379.0 C 625.0,380.3 631.2,383.5 635.0,387.0 C 638.8,390.5 643.1,395.8 646.0,400.0 C 648.9,404.2 650.7,407.8 652.5,412.0 C 654.3,416.2 655.8,419.5 657.0,425.0 C 658.2,430.5 659.4,438.3 659.5,445.0 C 659.6,451.7 658.6,458.3 657.5,465.0 C 656.4,471.7 654.9,478.3 653.0,485.0 C 651.1,491.7 648.5,499.2 646.0,505.0 C 643.5,510.8 641.0,515.3 638.0,520.0 C 635.0,524.7 631.5,528.7 628.0,533.0 C 624.5,537.3 620.2,542.5 617.0,546.0 C 613.8,549.5 609.9,552.7 608.5,554.0"/>
<path class="k" d="M 618.5,556.0 L 608.5,554.0 L 598.5,548.0"/>
<path class="k" d="M 469.5,384.0 L 480.0,389.6 L 480.0,398.7 L 470.0,393.2 Z"/>
<ellipse class="kw" cx="481.3" cy="384.6" rx="2.90" ry="1.40"/>
<ellipse class="kw" cx="627.0" cy="526.5" rx="1.80" ry="1.90"/>
<ellipse class="kw" cx="615.0" cy="540.5" rx="1.90" ry="4.30" transform="rotate(40 615.0 540.5)" style="stroke-width:1.2"/>
<path class="c" d="M 481.3,360.0 L 481.3,384.0"/>
<path class="c" d="M 481.3,398.5 L 481.3,443.0"/>
<path class="c" d="M 507.0,359.0 L 507.0,372.5"/>
<path class="c" d="M 507.0,391.0 L 507.0,431.0"/>
<path class="c" d="M 520.0,358.0 L 520.0,366.0"/>
<path class="kw" d="M 442.5,286.0 Q 442.5,281.5 446.0,280.5 L 465.5,275.0 Q 468.0,274.3 470.0,275.5 L 523.0,309.0 L 523.8,336.0 L 499.0,343.0 L 444.5,310.5 Q 442.5,309.5 442.5,307.0 Z"/>
<path class="k" d="M 444.3,282.8 L 498.0,314.6"/>
<path class="kw" d="M 499.5,314.5 L 521.5,309.2 Q 523.8,308.8 523.8,311.2 L 523.8,334.0 Q 523.8,336.2 521.6,336.8 L 499.5,342.5 Q 496.8,343.0 496.8,340.5 L 496.8,317.2 Q 496.8,315.0 499.5,314.5 Z"/>
<path class="k" d="M 500.5,316.5 L 520.2,311.6 Q 521.8,311.2 521.8,313.0 L 521.8,333.2 Q 521.8,334.7 520.3,335.1 L 500.5,340.3 Q 498.8,340.7 498.8,339.0 L 498.8,318.2 Q 498.8,316.9 500.5,316.5 Z"/>
<path class="k" d="M 499.0,320.5 L 521.8,333.8"/>
<path class="k" d="M 499.0,324.5 L 519.5,336.2"/>
<path class="kw" d="M 504.5,251.5 L 504.5,282.0 Q 507.5,283.4 510.5,282.0 L 510.5,251.5 Z"/>
<path class="kt" d="M 509.2,253.5 L 509.2,282.0"/>
<path class="kw" d="M 503.1,248.5 L 503.1,252.1 Q 507.5,254.4 511.9,252.1 L 511.9,248.5 Z"/>
<path class="kw" d="M 503.1,248.5 L 505.3,247.1 L 509.7,247.1 L 511.9,248.5 L 509.7,249.9 L 505.3,249.9 Z"/>
<path class="kt" d="M 505.3,249.9 L 505.3,253.1"/>
<path class="kt" d="M 509.7,249.9 L 509.7,253.1"/>
<path class="kw" d="M 462.5,290.0 L 511.0,277.0 L 532.5,291.5 L 532.5,295.0 L 486.0,309.0 L 462.5,293.5 Z"/>
<path class="k" d="M 462.5,290.0 L 486.0,305.0 L 532.5,291.5"/>
<path class="k" d="M 486.0,305.0 L 486.0,309.0"/>
<path class="kw" d="M 478.0,265.0 L 478.0,295.5 Q 481.4,296.9 484.8,295.5 L 484.8,265.0 Z"/>
<path class="kt" d="M 483.5,267.0 L 483.5,295.5"/>
<path class="kw" d="M 476.1,261.4 L 476.1,265.6 Q 481.4,268.3 486.7,265.6 L 486.7,261.4 Z"/>
<path class="kw" d="M 476.1,261.4 L 478.8,259.7 L 484.0,259.7 L 486.7,261.4 L 484.0,263.1 L 478.8,263.1 Z"/>
<path class="kt" d="M 478.8,263.1 L 478.8,266.8"/>
<path class="kt" d="M 484.0,263.1 L 484.0,266.8"/>
<path class="kw" d="M 517.2,259.0 L 517.2,289.6 Q 520.3,291.0 523.4,289.6 L 523.4,259.0 Z"/>
<path class="kt" d="M 522.1,261.0 L 522.1,289.6"/>
<path class="kw" d="M 515.9,256.0 L 515.9,259.6 Q 520.3,261.9 524.7,259.6 L 524.7,256.0 Z"/>
<path class="kw" d="M 515.9,256.0 L 518.1,254.6 L 522.5,254.6 L 524.7,256.0 L 522.5,257.4 L 518.1,257.4 Z"/>
<path class="kt" d="M 518.1,257.4 L 518.1,260.6"/>
<path class="kt" d="M 522.5,257.4 L 522.5,260.6"/>
<path class="kw" d="M 478.0,307.5 L 478.0,319.5 Q 481.4,321.0 484.8,319.5 L 484.8,309.5"/>
<path class="k" d="M 517.6,300.0 L 517.6,306.0 M 523.4,298.5 L 523.4,306.0"/>
<path class="c" d="M 481.3,320.5 L 481.3,345.0"/>
<path class="kw" d="M 466.5,343.3 L 473.8,340.3 L 479.0,343.5 L 486.0,341.0 L 496.0,342.8 L 514.0,338.0 L 520.5,337.5 L 527.5,341.0 Q 528.8,342.0 528.8,344.0 L 528.8,355.5 L 521.0,359.3 L 518.0,356.5 L 487.0,364.5 L 486.5,361.5 L 483.5,357.5 L 472.0,352.0 L 470.5,355.5 L 468.0,352.0 L 466.5,350.0 Z"/>
<path class="k" d="M 466.5,343.3 L 483.0,352.0 L 490.5,350.2 L 492.5,353.5 L 494.5,356.3 L 519.0,349.5 L 528.5,345.0"/>
<path class="k" d="M 479.0,343.5 L 490.5,350.2"/>
<path class="k" d="M 483.0,352.0 L 486.5,361.5"/>
<path class="kt" d="M 473.8,340.3 L 479.5,347.5 L 486.0,346.5"/>
<path class="k" d="M 494.5,359.2 L 519.0,352.5"/>
<path class="kt" d="M 487.0,364.5 L 519.0,356.2"/>
<path class="k" d="M 484.5,365.5 L 486.0,367.5 L 518.0,358.5"/>
<path class="k" d="M 516.0,340.5 C 517.5,343.0 517.5,346.0 515.2,348.2 L 518.0,349.0 C 520.5,346.5 521.0,343.0 519.5,339.5"/>
<ellipse class="kt" cx="480.8" cy="344.6" rx="2.00" ry="1.00"/>
<path class="kw" d="M 500.5,402.0 L 510.0,399.0 Q 512.5,398.3 515.0,399.8 L 528.0,408.5 Q 529.8,410.0 529.6,412.5 L 529.4,415.0 L 518.5,418.5 L 500.0,406.5 Q 498.5,405.5 498.6,404.2 Q 498.8,402.6 500.5,402.0 Z"/>
<path class="k" d="M 498.8,403.5 L 517.5,415.3 L 529.5,411.5"/>
<ellipse class="kw" cx="507.3" cy="403.3" rx="2.40" ry="1.20"/>
<ellipse class="kw" cx="520.0" cy="410.5" rx="2.40" ry="1.20"/>
<path class="c" d="M 520.0,358.0 L 520.0,410.0"/>
<path class="c" d="M 507.0,391.0 L 507.0,403.0"/>
<path class="c" d="M 520.0,415.0 L 520.0,440.0"/>
<ellipse class="k" cx="481.3" cy="432.0" rx="5.60" ry="2.90" style="fill:#fff;stroke-width:1.4"/>
<ellipse class="k" cx="481.3" cy="432.0" rx="3.36" ry="1.51" style="fill:#2c3e4a;stroke-width:1.1"/>
<path class="c" d="M 479.9,431.1 L 482.7,432.9"/>
<path class="kw" style="stroke-width:1.45" d="M 475.3,441.0 L 475.3,444.9 Q 478.0,448.6 481.3,448.1 Q 484.6,448.6 487.3,444.9 L 487.3,441.0 Z"/>
<path class="kw" style="stroke-width:1.3" d="M 475.3,441.0 L 478.2,438.4 L 484.4,438.4 L 487.3,441.0 L 484.4,443.6 L 478.2,443.6 Z"/>
<path class="k" d="M 478.2,443.6 L 478.2,447.2"/>
<path class="k" d="M 484.4,443.6 L 484.4,447.2"/>
<ellipse class="k" cx="481.3" cy="441.0" rx="2.52" ry="1.30" style="fill:#bfe2f3;stroke-width:1"/>
<ellipse class="k" cx="507.3" cy="422.5" rx="5.00" ry="2.60" style="fill:#fff;stroke-width:1.4"/>
<ellipse class="k" cx="507.3" cy="422.5" rx="3.00" ry="1.35" style="fill:#2c3e4a;stroke-width:1.1"/>
<path class="c" d="M 506.1,421.7 L 508.6,423.3"/>
<path class="kw" style="stroke-width:1.45" d="M 502.4,430.7 L 502.4,434.0 Q 504.7,437.4 507.5,436.9 Q 510.3,437.4 512.6,434.0 L 512.6,430.7 Z"/>
<path class="kw" style="stroke-width:1.3" d="M 502.4,430.7 L 504.8,428.4 L 510.2,428.4 L 512.6,430.7 L 510.2,432.9 L 504.8,432.9 Z"/>
<path class="k" d="M 504.8,432.9 L 504.8,436.1"/>
<path class="k" d="M 510.2,432.9 L 510.2,436.1"/>
<ellipse class="k" cx="507.5" cy="430.7" rx="2.14" ry="1.13" style="fill:#bfe2f3;stroke-width:1"/>
<ellipse class="k" cx="519.6" cy="430.0" rx="5.00" ry="2.60" style="fill:#fff;stroke-width:1.4"/>
<ellipse class="k" cx="519.6" cy="430.0" rx="3.00" ry="1.35" style="fill:#2c3e4a;stroke-width:1.1"/>
<path class="c" d="M 518.4,429.2 L 520.9,430.8"/>
<path class="kw" style="stroke-width:1.45" d="M 514.7,438.3 L 514.7,441.6 Q 517.0,445.0 519.8,444.5 Q 522.6,445.0 524.9,441.6 L 524.9,438.3 Z"/>
<path class="kw" style="stroke-width:1.3" d="M 514.7,438.3 L 517.1,436.0 L 522.5,436.0 L 524.9,438.3 L 522.5,440.5 L 517.1,440.5 Z"/>
<path class="k" d="M 517.1,440.5 L 517.1,443.7"/>
<path class="k" d="M 522.5,440.5 L 522.5,443.7"/>
<ellipse class="k" cx="519.8" cy="438.3" rx="2.14" ry="1.13" style="fill:#bfe2f3;stroke-width:1"/>
<path class="c" d="M 481.3,434.0 L 481.3,440.5"/>
<path class="c" d="M 507.3,424.5 L 507.3,430.0"/>
<path class="c" d="M 519.6,432.0 L 519.6,437.5"/>
<path class="ld" d="M452.2,241.1 L473.9,269.0"/>
<path class="ah" d="M477.3,273.3 L472.6,270.0 L475.3,267.9 Z"/>
<path class="ld" d="M586.5,252.2 L518.7,248.5"/>
<path class="ah" d="M513.2,248.2 L518.8,246.8 L518.6,250.2 Z"/>
<path class="ld" d="M586.5,252.2 L529.4,275.2"/>
<path class="ah" d="M524.3,277.3 L528.8,273.7 L530.0,276.8 Z"/>
<path class="ld" d="M571.0,287.3 L538.7,290.5"/>
<path class="ah" d="M533.2,291.0 L538.5,288.8 L538.8,292.2 Z"/>
<path class="ld" d="M564.3,335.0 L535.1,345.8"/>
<path class="ah" d="M529.9,347.7 L534.5,344.2 L535.6,347.4 Z"/>
<path class="ld" d="M562.3,401.3 L534.8,407.9"/>
<path class="ah" d="M529.5,409.2 L534.4,406.3 L535.2,409.6 Z"/>
<path class="ld" d="M437.9,423.5 L469.1,430.8"/>
<path class="ah" d="M474.5,432.1 L468.8,432.5 L469.5,429.2 Z"/>
<path class="ld" d="M469.6,494.5 L481.0,453.7"/>
<path class="ah" d="M482.5,448.4 L482.7,454.2 L479.4,453.2 Z"/>
<path class="ld" d="M548.8,480.5 L525.3,448.7"/>
<path class="ah" d="M522.0,444.3 L526.6,447.7 L523.9,449.7 Z"/>
<path class="ld" d="M550.6,435.3 L531.5,432.3"/>
<path class="ah" d="M526.1,431.4 L531.8,430.6 L531.3,433.9 Z"/>

<!-- 40_fig15.svg -->
<path class="c" d="M 945.5,511.5 L 994.0,529.5"/>
<path class="c" d="M 937.0,525.0 L 983.0,551.0"/>
<path class="w" d="M 913.5,369.2 L 930.0,371.5 L 950.0,380.0 L 970.0,395.0 L 985.0,413.0 L 994.0,432.0 L 999.0,452.0 L 999.7,470.0 L 997.0,490.0 L 990.0,515.0 L 984.0,530.0 L 976.0,543.0 L 969.0,552.0 L 957.0,553.5 L 948.5,549.0 L 958.0,535.0 L 966.0,517.0 L 971.5,508.0 L 976.0,496.0 L 979.0,484.0 L 980.8,473.0 L 981.5,462.0 L 980.5,450.0 L 977.0,430.0 L 970.0,412.0 L 960.0,400.0 L 945.0,390.0 L 930.0,385.5 L 910.0,385.0 L 899.5,387.2 Z"/>
<path class="k" d="M 913.5,369.2 C 916.2,369.6 923.9,369.7 930.0,371.5 C 936.1,373.3 943.3,376.1 950.0,380.0 C 956.7,383.9 964.2,389.5 970.0,395.0 C 975.8,400.5 981.0,406.8 985.0,413.0 C 989.0,419.2 991.7,425.5 994.0,432.0 C 996.3,438.5 998.0,445.7 999.0,452.0 C 1000.0,458.3 1000.0,463.7 999.7,470.0 C 999.4,476.3 998.6,482.5 997.0,490.0 C 995.4,497.5 992.2,508.3 990.0,515.0 C 987.8,521.7 986.3,525.3 984.0,530.0 C 981.7,534.7 978.5,539.3 976.0,543.0 C 973.5,546.7 970.2,550.5 969.0,552.0"/>
<path class="k" d="M 899.5,387.2 C 901.2,386.8 904.9,385.3 910.0,385.0 C 915.1,384.7 924.2,384.7 930.0,385.5 C 935.8,386.3 940.0,387.6 945.0,390.0 C 950.0,392.4 955.8,396.3 960.0,400.0 C 964.2,403.7 967.2,407.0 970.0,412.0 C 972.8,417.0 975.2,423.7 977.0,430.0 C 978.8,436.3 979.8,444.7 980.5,450.0 C 981.2,455.3 981.5,458.2 981.5,462.0 C 981.5,465.8 981.2,469.3 980.8,473.0 C 980.4,476.7 979.8,480.2 979.0,484.0 C 978.2,487.8 977.2,492.0 976.0,496.0 C 974.8,500.0 973.2,504.5 971.5,508.0 C 969.8,511.5 968.2,512.5 966.0,517.0 C 963.8,521.5 960.9,529.7 958.0,535.0 C 955.1,540.3 950.1,546.7 948.5,549.0"/>
<path class="k" d="M 954.0,395.5 C 955.3,396.3 959.3,398.6 962.0,400.5 C 964.7,402.4 967.5,404.4 970.0,407.0 C 972.5,409.6 975.0,413.0 977.0,416.0 C 979.0,419.0 980.4,421.5 982.0,425.0 C 983.6,428.5 985.2,432.8 986.5,437.0 C 987.8,441.2 988.7,445.5 989.5,450.0 C 990.3,454.5 991.0,459.0 991.2,464.0 C 991.4,469.0 991.3,474.0 990.5,480.0 C 989.7,486.0 988.2,493.3 986.5,500.0 C 984.8,506.7 982.8,513.7 980.0,520.0 C 977.2,526.3 973.8,532.4 970.0,538.0 C 966.2,543.6 959.6,550.9 957.5,553.5"/>
<path class="k" d="M 913.8,375.8 C 915.2,375.7 919.3,375.1 922.0,375.0 C 924.7,374.9 927.5,374.9 930.0,375.0 C 932.5,375.1 934.5,375.3 937.0,375.8 C 939.5,376.3 942.5,377.1 945.0,378.0 C 947.5,378.9 949.7,379.7 952.0,381.0 C 954.3,382.3 957.8,385.0 959.0,385.8"/>
<path class="k" d="M 969.0,552.0 L 957.0,553.5 L 948.5,549.0"/>
<ellipse class="k" cx="972.0" cy="521.0" rx="1.50" ry="2.10" transform="rotate(20 972.0 521.0)" style="fill:#fff;stroke:#12303f;stroke-width:0.9"/>
<ellipse class="kw" cx="961.5" cy="537.5" rx="1.70" ry="4.30" transform="rotate(27 961.5 537.5)" style="stroke:#12303f;stroke-width:1"/>
<path class="c" d="M 967.5,519.5 L 970.5,520.5"/>
<path class="c" d="M 956.0,535.0 L 960.0,537.0"/>
<path class="w" d="M 972.5,462.5 L 979.0,477.0 L 978.5,484.0 L 977.0,491.0 L 974.3,500.0 L 970.5,511.0 L 966.0,522.0 L 960.0,532.0 L 954.0,542.0 L 947.0,550.0 L 940.0,558.0 L 927.0,568.0 L 910.0,571.2 L 908.5,570.0 L 911.0,562.0 L 921.0,553.0 L 930.0,544.0 L 938.0,535.0 L 944.0,526.0 L 950.0,517.0 L 954.0,511.0 L 957.5,504.0 L 960.5,496.0 L 962.3,488.0 L 964.0,479.0 L 966.0,469.0 Z"/>
<path class="k" d="M 964.0,479.0 C 963.7,480.5 962.9,485.2 962.3,488.0 C 961.7,490.8 961.3,493.3 960.5,496.0 C 959.7,498.7 958.6,501.5 957.5,504.0 C 956.4,506.5 955.2,508.8 954.0,511.0 C 952.8,513.2 951.7,514.5 950.0,517.0 C 948.3,519.5 946.0,523.0 944.0,526.0 C 942.0,529.0 940.3,532.0 938.0,535.0 C 935.7,538.0 932.8,541.0 930.0,544.0 C 927.2,547.0 924.2,550.0 921.0,553.0 C 917.8,556.0 913.1,559.2 911.0,562.0 C 908.9,564.8 908.9,568.7 908.5,570.0"/>
<path class="k" d="M 979.0,477.0 C 978.9,478.2 978.8,481.7 978.5,484.0 C 978.2,486.3 977.7,488.3 977.0,491.0 C 976.3,493.7 975.4,496.7 974.3,500.0 C 973.2,503.3 971.9,507.3 970.5,511.0 C 969.1,514.7 967.8,518.5 966.0,522.0 C 964.2,525.5 962.0,528.7 960.0,532.0 C 958.0,535.3 956.2,539.0 954.0,542.0 C 951.8,545.0 949.3,547.3 947.0,550.0 C 944.7,552.7 943.3,555.0 940.0,558.0 C 936.7,561.0 929.2,566.3 927.0,568.0"/>
<path class="k" d="M 973.5,484.0 C 973.3,485.3 973.0,489.3 972.5,492.0 C 972.0,494.7 971.3,497.0 970.3,500.0 C 969.3,503.0 967.9,506.7 966.5,510.0 C 965.1,513.3 963.8,516.7 962.0,520.0 C 960.2,523.3 958.0,526.7 956.0,530.0 C 954.0,533.3 952.3,536.7 950.0,540.0 C 947.7,543.3 944.8,546.7 942.0,550.0 C 939.2,553.3 936.0,556.8 933.0,560.0 C 930.0,563.2 925.5,567.5 924.0,569.0"/>
<path class="k" d="M 964.0,479.0 L 966.0,469.0 L 972.5,462.5 L 979.0,477.0"/>
<path class="k" d="M 972.5,462.5 L 970.0,470.0 L 973.5,484.0 L 979.0,477.0 L 974.5,464.5"/>
<path class="k" d="M 964.0,479.0 L 970.0,470.0"/>
<path class="kt" d="M 965.0,475.0 L 970.5,473.0"/>
<path class="kb" d="M 908.5,570.0 L 910.0,571.2 L 924.0,569.2 L 927.0,568.0"/>
<path class="k" d="M 911.0,562.0 L 920.0,555.0 L 918.0,560.0 L 929.0,560.0 L 924.0,569.0"/>
<path class="k" d="M 918.0,560.0 L 910.0,570.5"/>
<path class="kt" d="M 915.0,559.0 L 920.5,554.8"/>
<ellipse class="k" cx="958.0" cy="515.5" rx="3.20" ry="4.30" transform="rotate(20 958.0 515.5)" style="fill:#2f3d47;stroke-width:1"/>
<ellipse class="k" cx="958.0" cy="515.5" rx="1.30" ry="1.90" transform="rotate(20 958.0 515.5)" style="fill:#7fc0e4;stroke:#1e9fd6;stroke-width:0.7"/>
<ellipse class="k" cx="949.0" cy="531.5" rx="3.20" ry="4.30" transform="rotate(20 949.0 531.5)" style="fill:#2f3d47;stroke-width:1"/>
<ellipse class="k" cx="949.0" cy="531.5" rx="1.30" ry="1.90" transform="rotate(20 949.0 531.5)" style="fill:#7fc0e4;stroke:#1e9fd6;stroke-width:0.7"/>
<path class="c" d="M 945.5,511.5 L 955.5,514.8"/>
<path class="c" d="M 937.0,525.0 L 946.5,530.2"/>
<path class="kw" style="stroke-width:1.15" d="M 928.6,507.3 L 944.8,513.2 L 946.2,509.2 L 930.1,503.4 Z"/>
<ellipse class="kf" cx="928.2" cy="504.9" rx="2.90" ry="3.90" transform="rotate(19.908470290326132 928.2 504.9)"/>
<ellipse class="kw" style="stroke-width:1.3" cx="927.0" cy="504.5" rx="2.90" ry="3.90" transform="rotate(19.908470290326132 927.0 504.5)"/>
<path class="kw" style="stroke-width:1.15" d="M 921.4,517.1 L 935.6,526.7 L 938.0,523.3 L 923.7,513.7 Z"/>
<ellipse class="kf" cx="921.6" cy="514.7" rx="2.90" ry="3.90" transform="rotate(34.013312499910725 921.6 514.7)"/>
<ellipse class="kw" style="stroke-width:1.3" cx="920.5" cy="514.0" rx="2.90" ry="3.90" transform="rotate(34.013312499910725 920.5 514.0)"/>
<ellipse class="kf" cx="997.5" cy="530.7" rx="4.27" ry="4.50" transform="rotate(20 997.5 530.7)"/>
<ellipse class="k" cx="996.5" cy="530.0" rx="3.96" ry="4.41" transform="rotate(20 996.5 530.0)" style="fill:#3d4f5c;stroke-width:1.1"/>
<ellipse class="k" cx="996.3" cy="529.8" rx="2.48" ry="2.79" transform="rotate(20 996.3 529.8)" style="fill:#8cc8e8;stroke-width:0.9"/>
<ellipse class="k" cx="996.3" cy="529.8" rx="1.12" ry="1.35" transform="rotate(20 996.3 529.8)" style="fill:#dff0fa;stroke:#2a6f95;stroke-width:0.7"/>
<ellipse class="kf" cx="986.0" cy="552.7" rx="4.27" ry="4.50" transform="rotate(20 986.0 552.7)"/>
<ellipse class="k" cx="985.0" cy="552.0" rx="3.96" ry="4.41" transform="rotate(20 985.0 552.0)" style="fill:#3d4f5c;stroke-width:1.1"/>
<ellipse class="k" cx="984.8" cy="551.8" rx="2.48" ry="2.79" transform="rotate(20 984.8 551.8)" style="fill:#8cc8e8;stroke-width:0.9"/>
<ellipse class="k" cx="984.8" cy="551.8" rx="1.12" ry="1.35" transform="rotate(20 984.8 551.8)" style="fill:#dff0fa;stroke:#2a6f95;stroke-width:0.7"/>
<path class="ld" d="M879.3,495.3 L911.8,509.8"/>
<path class="ah" d="M916.8,512.0 L911.1,511.3 L912.5,508.2 Z"/>
<path class="ld" d="M871.6,551.6 L904.9,558.7"/>
<path class="ah" d="M910.3,559.9 L904.6,560.4 L905.3,557.1 Z"/>
<path class="ld" d="M1000.3,591.7 L989.4,563.2"/>
<path class="ah" d="M987.4,558.1 L991.0,562.6 L987.8,563.8 Z"/>
<g class="asm">
<path class="kw" d="M 844.5,333.0 L 859.0,329.1 C 866.0,327.3 869.5,330.5 869.5,336.5 L 869.5,350.0 L 863.5,350.0 L 863.5,339.0 C 863.5,336.0 862.5,334.5 859.0,335.1 L 845.0,338.8 Z"/>
<path class="kw" d="M 864.5,387.0 L 858.5,387.0 L 858.5,355.0 L 886.0,349.0 L 890.0,360.0 L 894.0,361.8 L 900.0,364.0 C 908.0,365.0 914.0,370.0 913.5,376.0 C 913.5,382.0 909.0,385.5 900.0,386.8 L 896.0,388.5 L 880.0,393.2 L 864.5,397.8 Z"/>
<path class="k" d="M 880.5,353.0 C 875.0,356.0 874.5,363.0 878.0,367.5 L 881.5,370.0 L 882.5,368.5 L 879.0,366.2"/>
<path class="kt" d="M 871.5,360.5 C 872.0,364.0 873.5,366.2 876.0,368.0"/>
<path class="k" d="M 862.0,358.5 L 864.5,359.0 L 864.5,363.5 L 867.0,363.5 L 867.2,359.5 L 871.0,358.5"/>
<path class="kt" d="M 883.5,352.2 L 888.5,355.2"/>
<path class="kt" d="M 894.0,361.8 L 900.0,359.5 L 903.0,363.2"/>
<path class="k" d="M 864.5,387.0 C 875.0,383.0 883.0,380.5 890.0,380.0 C 895.0,379.8 898.5,378.5 900.0,375.5"/>
<path class="kt" d="M 865.5,385.5 L 877.0,382.0"/>
<path class="kw" d="M 905.0,368.2 L 906.3,373.0 L 906.6,380.0 L 905.0,384.5 C 903.0,380.0 903.0,373.0 905.0,368.2 Z"/>
<path class="kf" d="M 905.0,368.2 L 906.0,374.0 L 905.2,380.0 L 905.0,384.5 L 904.3,376.5 Z"/>
<ellipse class="kw" style="stroke-width:1.2" cx="908.0" cy="376.5" rx="2.70" ry="3.40" transform="rotate(8 908.0 376.5)"/>
<path class="kt" d="M 906.0,382.0 L 911.5,377.5"/>
<ellipse class="kw" cx="897.0" cy="358.5" rx="1.20" ry="1.20"/>
<path class="kt" d="M 895.0,360.5 L 898.5,362.5"/>
<path class="k" d="M 877.0,395.5 L 883.0,398.5 L 893.0,398.0 L 896.2,394.5 L 895.5,391.0"/>
<path class="kw" d="M 883.4,391.5 L 883.4,394.7 Q 887.5,397.0 891.6,394.7 L 891.6,391.5 Z"/>
<path class="kw" d="M 883.4,391.5 L 885.5,390.1 L 889.5,390.1 L 891.6,391.5 L 889.5,392.9 L 885.5,392.9 Z"/>
<path class="kt" d="M 885.5,392.9 L 885.5,395.7"/>
<path class="kt" d="M 889.5,392.9 L 889.5,395.7"/>
<path class="kw" d="M 882.7,400.0 L 882.7,403.0 Q 886.5,405.1 890.3,403.0 L 890.3,400.0 Z"/>
<path class="kw" d="M 882.7,400.0 L 884.6,398.7 L 888.4,398.7 L 890.3,400.0 L 888.4,401.3 L 884.6,401.3 Z"/>
<path class="kt" d="M 884.6,401.3 L 884.6,403.9"/>
<path class="kt" d="M 888.4,401.3 L 888.4,403.9"/>
<path class="kw" d="M 853.7,400.8 L 853.7,404.2 Q 858.0,406.6 862.3,404.2 L 862.3,400.8 Z"/>
<path class="kw" d="M 853.7,400.8 L 855.9,399.3 L 860.1,399.3 L 862.3,400.8 L 860.1,402.3 L 855.9,402.3 Z"/>
<path class="kt" d="M 855.9,402.3 L 855.9,405.3"/>
<path class="kt" d="M 860.1,402.3 L 860.1,405.3"/>
<path d="M 804.8,306.5 Q 804.8,308.9 805.8,311.2 Q 805.9,313.6 806.9,315.9 Q 806.9,318.3 807.9,320.7 Q 808.0,323.1 809.0,325.4 Q 809.0,327.8 810.0,330.1 Q 810.1,332.5 811.1,334.8 Q 811.1,337.2 812.1,339.6 Q 812.2,341.9 813.2,344.3 Q 813.2,346.7 814.2,349.0 Q 814.3,351.4 815.3,353.7 Q 815.3,356.1 816.3,358.4 Q 816.4,360.8 817.4,363.2 Q 817.4,365.6 818.4,367.9 Q 818.5,370.3 819.5,372.6 Q 819.5,375.0 820.5,377.3 Q 820.6,379.7 821.6,382.1 Q 821.2,382.6 821.8,383.0 C 828.9,387.2 837.0,386.6 842.1,381.7 Q 842.1,379.3 841.0,377.0 Q 841.0,374.6 839.9,372.3 Q 839.9,369.9 838.8,367.5 Q 838.8,365.1 837.8,362.8 Q 837.7,360.4 836.7,358.1 Q 836.6,355.7 835.6,353.4 Q 835.5,351.0 834.5,348.6 Q 834.5,346.3 833.4,343.9 Q 833.4,341.5 832.3,339.2 Q 832.3,336.8 831.2,334.5 Q 831.2,332.1 830.1,329.8 Q 830.1,327.4 829.1,325.0 Q 829.0,322.6 828.0,320.3 Q 827.9,317.9 826.9,315.6 Q 826.8,313.2 825.8,310.9 Q 825.8,308.5 824.7,306.1 Q 825.1,305.6 824.5,305.2 Z" fill="#fff" stroke="#000" stroke-width="1.10" stroke-linejoin="round"/>
<path d="M 805.8,311.2 C 812.8,315.4 820.7,314.9 825.6,309.9 M 806.9,315.9 C 813.9,320.1 821.8,319.6 826.7,314.6 M 807.9,320.7 C 814.9,324.8 822.8,324.3 827.8,319.4 M 809.0,325.4 C 816.0,329.5 823.9,329.0 828.8,324.1 M 810.0,330.1 C 817.0,334.3 825.0,333.7 829.9,328.8 M 811.1,334.8 C 818.1,339.0 826.1,338.5 831.0,333.5 M 812.1,339.6 C 819.2,343.7 827.1,343.2 832.1,338.3 M 813.2,344.3 C 820.2,348.4 828.2,347.9 833.2,343.0 M 814.2,349.0 C 821.3,353.2 829.3,352.6 834.3,347.7 M 815.3,353.7 C 822.3,357.9 830.4,357.4 835.4,352.4 M 816.3,358.4 C 823.4,362.6 831.4,362.1 836.5,357.1 M 817.4,363.2 C 824.5,367.3 832.5,366.8 837.5,361.9 M 818.4,367.9 C 825.5,372.0 833.6,371.5 838.6,366.6 M 819.5,372.6 C 826.6,376.8 834.7,376.2 839.7,371.3 M 820.5,377.3 C 827.6,381.5 835.7,381.0 840.8,376.0" fill="none" stroke="#000" stroke-width="1.50" stroke-linecap="round"/>
<path class="k" d="M 821.4,377.5 L 821.4,389.0"/>
<path d="M 818.6,313.0 Q 818.6,315.4 819.7,317.7 Q 819.7,320.1 820.7,322.5 Q 820.8,324.9 821.8,327.2 Q 821.8,329.6 822.9,332.0 Q 822.9,334.4 823.9,336.7 Q 824.0,339.1 825.0,341.5 Q 825.0,343.9 826.1,346.2 Q 826.1,348.6 827.1,350.9 Q 827.2,353.3 828.2,355.7 Q 828.2,358.1 829.3,360.4 Q 829.3,362.8 830.3,365.2 Q 830.4,367.6 831.4,369.9 Q 831.4,372.3 832.5,374.6 Q 832.5,377.0 833.5,379.4 Q 833.6,381.8 834.6,384.1 Q 834.1,384.4 834.7,384.6 C 841.7,388.9 849.7,388.3 854.5,383.1 Q 854.4,380.7 853.4,378.4 Q 853.3,376.0 852.3,373.6 Q 852.3,371.2 851.2,368.9 Q 851.2,366.5 850.1,364.2 Q 850.1,361.8 849.0,359.5 Q 849.0,357.1 847.9,354.7 Q 847.9,352.3 846.8,350.0 Q 846.8,347.6 845.7,345.3 Q 845.7,342.9 844.6,340.5 Q 844.6,338.1 843.5,335.8 Q 843.5,333.4 842.4,331.1 Q 842.4,328.7 841.3,326.4 Q 841.3,324.0 840.2,321.6 Q 840.2,319.2 839.1,316.9 Q 839.1,314.5 838.0,312.2 Q 838.5,311.9 837.9,311.7 Z" fill="#fff" stroke="#000" stroke-width="1.10" stroke-linejoin="round"/>
<path d="M 819.7,317.7 C 826.6,322.1 834.3,321.6 839.0,316.4 M 820.7,322.5 C 827.6,326.9 835.4,326.4 840.1,321.2 M 821.8,327.2 C 828.7,331.6 836.5,331.1 841.2,325.9 M 822.9,332.0 C 829.8,336.4 837.6,335.8 842.3,330.6 M 823.9,336.7 C 830.9,341.1 838.7,340.5 843.4,335.3 M 825.0,341.5 C 831.9,345.8 839.7,345.3 844.5,340.1 M 826.1,346.2 C 833.0,350.6 840.8,350.0 845.6,344.8 M 827.1,350.9 C 834.1,355.3 841.9,354.7 846.7,349.5 M 828.2,355.7 C 835.2,360.0 843.0,359.5 847.8,354.3 M 829.3,360.4 C 836.2,364.8 844.1,364.2 848.9,359.0 M 830.3,365.2 C 837.3,369.5 845.2,368.9 850.0,363.7 M 831.4,369.9 C 838.4,374.3 846.3,373.7 851.1,368.4 M 832.5,374.6 C 839.5,379.0 847.4,378.4 852.2,373.2 M 833.5,379.4 C 840.6,383.7 848.5,383.1 853.3,377.9" fill="none" stroke="#000" stroke-width="1.50" stroke-linecap="round"/>
<path class="kw" style="stroke-width:1.2" d="M 803.1,303.1 L 806.5,299.4 L 816.2,296.4 L 820.0,298.4 L 829.2,302.2 C 834.0,304.8 836.2,307.6 837.0,311.0 C 834.0,313.6 829.0,315.2 824.5,315.2 L 818.5,313.8 L 803.2,304.8 Z"/>
<path class="kb" d="M 803.3,305.1 L 818.5,314.1 L 824.5,315.5 C 829.0,315.5 834.0,314.0 837.0,311.4"/>
<path class="kt" d="M 827.5,310.8 L 833.0,309.3"/>
<path class="kt" d="M 828.5,312.1 L 834.0,310.4"/>
<ellipse class="kw" cx="832.8" cy="317.0" rx="1.00" ry="1.30"/>
<path class="kw" style="stroke-width:1.25" d="M 807.1,299.8 L 807.1,302.8 Q 811.6,305.2 816.1,302.8 L 816.1,299.8 Z"/>
<path class="kw" style="stroke-width:1.25" d="M 807.1,299.8 L 809.4,298.3 L 813.9,298.3 L 816.1,299.8 L 813.9,301.3 L 809.4,301.3 Z"/>
<path class="kt" d="M 809.4,301.3 L 809.4,303.9"/>
<path class="kt" d="M 813.9,301.3 L 813.9,303.9"/>
<path class="kw" d="M 807.2,290.3 L 808.8,299.4 Q 811.4,300.2 814.0,298.6 L 812.8,290.0 Z"/>
<ellipse class="kw" style="stroke-width:1.2" cx="810.0" cy="290.0" rx="2.80" ry="1.50" transform="rotate(-8 810.0 290.0)"/>
<path class="kw" style="stroke-width:1.25" d="M 820.6,307.8 L 820.6,310.8 Q 825.1,313.2 829.6,310.8 L 829.6,307.8 Z"/>
<path class="kw" style="stroke-width:1.25" d="M 820.6,307.8 L 822.9,306.3 L 827.4,306.3 L 829.6,307.8 L 827.4,309.3 L 822.9,309.3 Z"/>
<path class="kt" d="M 822.9,309.3 L 822.9,311.9"/>
<path class="kt" d="M 827.4,309.3 L 827.4,311.9"/>
<path class="kw" d="M 820.7,298.3 L 822.3,307.4 Q 824.9,308.2 827.5,306.6 L 826.3,298.0 Z"/>
<ellipse class="kw" style="stroke-width:1.2" cx="823.5" cy="298.0" rx="2.80" ry="1.50" transform="rotate(-8 823.5 298.0)"/>
<path class="kw" d="M 823.2,412.8 L 823.2,416.9 Q 828.5,419.9 833.8,416.9 L 833.8,412.8 Z"/>
<path class="kw" d="M 823.2,412.8 L 825.9,410.9 L 831.1,410.9 L 833.8,412.8 L 831.1,414.6 L 825.9,414.6 Z"/>
<path class="kt" d="M 825.9,414.6 L 825.9,418.2"/>
<path class="kt" d="M 831.1,414.6 L 831.1,418.2"/>
<path class="kw" d="M 836.0,410.0 L 836.0,413.0 L 839.2,415.0 L 842.5,413.8 L 842.5,407.5"/>
<path class="kw" d="M 844.5,400.0 L 846.0,407.5 L 844.0,410.0 L 846.5,412.2 L 849.5,411.8 L 848.0,401.0 Z"/>
<path class="k" d="M 849.0,401.0 L 849.5,403.0 L 851.8,402.8 L 852.2,411.5 L 850.0,412.0"/>
<path class="kw" d="M 817.5,404.5 L 817.5,406.2 L 826.5,411.8 L 837.2,410.0 L 844.5,406.8 L 844.5,405.5"/>
<path class="kw" d="M 816.5,395.5 L 826.5,400.8 L 826.5,410.0 L 816.8,404.6 Z"/>
<path class="kw" d="M 826.5,400.8 L 836.0,397.9 L 844.5,398.5 L 844.5,405.5 L 826.5,410.0 Z"/>
<path class="kw" d="M 816.5,395.5 L 817.5,390.5 Q 818.0,389.6 820.0,389.2 L 835.5,390.0 L 836.0,397.9 L 826.5,400.8 Z"/>
<path class="kw" d="M 823.8,386.2 L 824.2,390.5 Q 828.5,393.0 833.2,390.5 L 833.2,386.2 Z"/>
<ellipse class="kw" cx="828.5" cy="386.1" rx="4.80" ry="1.90"/>
<path class="kt" d="M 826.5,387.9 L 826.8,391.8"/>
<path class="kt" d="M 830.5,387.9 L 830.8,391.8"/>
<path class="kw" d="M 835.5,390.0 Q 848.0,390.6 864.5,389.2 L 865.0,387.0 L 865.2,397.8 Q 864.0,398.9 862.0,399.0 L 836.0,397.9 Z"/>
<path class="k" d="M 864.8,389.5 L 865.0,398.0"/>
<path class="kw" d="M 855.5,387.8 L 855.5,359.9 C 855.5,353.9 858.0,350.9 863.0,349.7 L 884.0,344.4 C 890.0,342.9 893.0,345.9 893.0,351.9 L 893.0,378.5 Q 890.3,379.5 887.5,378.5 L 887.5,354.4 C 887.5,350.9 886.0,349.4 883.0,350.2 L 866.0,354.9 C 862.0,356.1 860.5,357.9 860.5,361.4 L 860.5,387.8 Q 858.0,388.8 855.5,387.8 Z"/>
</g>

<!-- 50_fig16rh.svg -->
<path class="c" d="M 1262.4,333.1 L 1311.4,351.3"/>
<path class="c" d="M 1249.4,343.8 L 1300.4,372.8"/>
<path class="w" d="M 1230.9,191.0 L 1247.4,193.3 L 1267.4,201.8 L 1287.4,216.8 L 1302.4,234.8 L 1311.4,253.8 L 1316.4,273.8 L 1317.1,291.8 L 1314.4,311.8 L 1307.4,336.8 L 1301.4,351.8 L 1293.4,364.8 L 1286.4,373.8 L 1274.4,375.3 L 1265.9,370.8 L 1275.4,356.8 L 1283.4,338.8 L 1288.9,329.8 L 1293.4,317.8 L 1296.4,305.8 L 1298.2,294.8 L 1298.9,283.8 L 1297.9,271.8 L 1294.4,251.8 L 1287.4,233.8 L 1277.4,221.8 L 1262.4,211.8 L 1247.4,207.3 L 1227.4,206.8 L 1216.9,209.0 Z"/>
<path class="k" d="M 1230.9,191.0 C 1233.7,191.4 1241.3,191.5 1247.4,193.3 C 1253.5,195.1 1260.7,197.9 1267.4,201.8 C 1274.1,205.7 1281.6,211.3 1287.4,216.8 C 1293.2,222.3 1298.4,228.6 1302.4,234.8 C 1306.4,241.0 1309.1,247.3 1311.4,253.8 C 1313.7,260.3 1315.4,267.5 1316.4,273.8 C 1317.3,280.1 1317.4,285.5 1317.1,291.8 C 1316.8,298.1 1316.0,304.3 1314.4,311.8 C 1312.8,319.3 1309.6,330.1 1307.4,336.8 C 1305.2,343.5 1303.7,347.1 1301.4,351.8 C 1299.1,356.5 1295.9,361.1 1293.4,364.8 C 1290.9,368.5 1287.6,372.3 1286.4,373.8"/>
<path class="k" d="M 1216.9,209.0 C 1218.7,208.6 1222.3,207.1 1227.4,206.8 C 1232.5,206.5 1241.6,206.5 1247.4,207.3 C 1253.2,208.1 1257.4,209.4 1262.4,211.8 C 1267.4,214.2 1273.2,218.1 1277.4,221.8 C 1281.6,225.5 1284.6,228.8 1287.4,233.8 C 1290.2,238.8 1292.7,245.5 1294.4,251.8 C 1296.2,258.1 1297.2,266.5 1297.9,271.8 C 1298.7,277.1 1298.8,280.0 1298.9,283.8 C 1298.9,287.6 1298.6,291.1 1298.2,294.8 C 1297.8,298.5 1297.2,302.0 1296.4,305.8 C 1295.6,309.6 1294.7,313.8 1293.4,317.8 C 1292.2,321.8 1290.6,326.3 1288.9,329.8 C 1287.2,333.3 1285.7,334.3 1283.4,338.8 C 1281.2,343.3 1278.3,351.5 1275.4,356.8 C 1272.5,362.1 1267.5,368.5 1265.9,370.8"/>
<path class="k" d="M 1271.4,217.3 C 1272.7,218.1 1276.7,220.4 1279.4,222.3 C 1282.1,224.2 1284.9,226.2 1287.4,228.8 C 1289.9,231.4 1292.4,234.8 1294.4,237.8 C 1296.4,240.8 1297.8,243.3 1299.4,246.8 C 1301.0,250.3 1302.7,254.6 1303.9,258.8 C 1305.2,263.0 1306.1,267.3 1306.9,271.8 C 1307.7,276.3 1308.4,280.8 1308.6,285.8 C 1308.8,290.8 1308.7,295.8 1307.9,301.8 C 1307.1,307.8 1305.7,315.1 1303.9,321.8 C 1302.2,328.5 1300.2,335.5 1297.4,341.8 C 1294.7,348.1 1291.2,354.2 1287.4,359.8 C 1283.7,365.4 1277.0,372.7 1274.9,375.3"/>
<path class="k" d="M 1231.2,197.6 C 1232.6,197.5 1236.7,196.9 1239.4,196.8 C 1242.1,196.7 1244.9,196.7 1247.4,196.8 C 1249.9,196.9 1251.9,197.1 1254.4,197.6 C 1256.9,198.1 1259.9,198.9 1262.4,199.8 C 1264.9,200.7 1267.1,201.5 1269.4,202.8 C 1271.7,204.1 1275.2,206.8 1276.4,207.6"/>
<path class="k" d="M 1286.4,373.8 L 1274.4,375.3 L 1265.9,370.8"/>
<ellipse class="k" cx="1289.4" cy="342.8" rx="1.50" ry="2.10" transform="rotate(20 1289.4 342.8)" style="fill:#fff;stroke:#12303f;stroke-width:0.9"/>
<ellipse class="kw" cx="1278.9" cy="359.3" rx="1.70" ry="4.30" transform="rotate(27 1278.9 359.3)" style="stroke:#12303f;stroke-width:1"/>
<path class="c" d="M 1283.4,340.8 L 1287.9,342.3"/>
<path class="c" d="M 1273.4,356.8 L 1277.4,358.8"/>
<ellipse class="kf" cx="1314.9" cy="352.5" rx="4.27" ry="4.50" transform="rotate(20 1314.9 352.5)"/>
<ellipse class="k" cx="1313.9" cy="351.8" rx="3.96" ry="4.41" transform="rotate(20 1313.9 351.8)" style="fill:#3d4f5c;stroke-width:1.1"/>
<ellipse class="k" cx="1313.7" cy="351.6" rx="2.48" ry="2.79" transform="rotate(20 1313.7 351.6)" style="fill:#8cc8e8;stroke-width:0.9"/>
<ellipse class="k" cx="1313.7" cy="351.6" rx="1.12" ry="1.35" transform="rotate(20 1313.7 351.6)" style="fill:#dff0fa;stroke:#2a6f95;stroke-width:0.7"/>
<ellipse class="kf" cx="1303.4" cy="374.5" rx="4.27" ry="4.50" transform="rotate(20 1303.4 374.5)"/>
<ellipse class="k" cx="1302.4" cy="373.8" rx="3.96" ry="4.41" transform="rotate(20 1302.4 373.8)" style="fill:#3d4f5c;stroke-width:1.1"/>
<ellipse class="k" cx="1302.2" cy="373.6" rx="2.48" ry="2.79" transform="rotate(20 1302.2 373.6)" style="fill:#8cc8e8;stroke-width:0.9"/>
<ellipse class="k" cx="1302.2" cy="373.6" rx="1.12" ry="1.35" transform="rotate(20 1302.2 373.6)" style="fill:#dff0fa;stroke:#2a6f95;stroke-width:0.7"/>
<g class="asm">
<path class="kw" d="M 1161.9,154.8 L 1176.4,150.9 C 1183.4,149.1 1186.9,152.3 1186.9,158.3 L 1186.9,171.8 L 1180.9,171.8 L 1180.9,160.8 C 1180.9,157.8 1179.9,156.3 1176.4,156.9 L 1162.4,160.6 Z"/>
<path class="kw" d="M 1181.9,208.8 L 1175.9,208.8 L 1175.9,176.8 L 1203.4,170.8 L 1207.4,181.8 L 1211.4,183.6 L 1217.4,185.8 C 1225.4,186.8 1231.4,191.8 1230.9,197.8 C 1230.9,203.8 1226.4,207.3 1217.4,208.6 L 1213.4,210.3 L 1197.4,215.0 L 1181.9,219.6 Z"/>
<path class="k" d="M 1197.9,174.8 C 1192.4,177.8 1191.9,184.8 1195.4,189.3 L 1198.9,191.8 L 1199.9,190.3 L 1196.4,188.0"/>
<path class="kt" d="M 1188.9,182.3 C 1189.4,185.8 1190.9,188.0 1193.4,189.8"/>
<path class="k" d="M 1179.4,180.3 L 1181.9,180.8 L 1181.9,185.3 L 1184.4,185.3 L 1184.6,181.3 L 1188.4,180.3"/>
<path class="kt" d="M 1200.9,174.0 L 1205.9,177.0"/>
<path class="kt" d="M 1211.4,183.6 L 1217.4,181.3 L 1220.4,185.0"/>
<path class="k" d="M 1181.9,208.8 C 1192.4,204.8 1200.4,202.3 1207.4,201.8 C 1212.4,201.6 1215.9,200.3 1217.4,197.3"/>
<path class="kt" d="M 1182.9,207.3 L 1194.4,203.8"/>
<path class="kw" d="M 1222.4,190.0 L 1223.7,194.8 L 1224.0,201.8 L 1222.4,206.3 C 1220.4,201.8 1220.4,194.8 1222.4,190.0 Z"/>
<path class="kf" d="M 1222.4,190.0 L 1223.4,195.8 L 1222.6,201.8 L 1222.4,206.3 L 1221.7,198.3 Z"/>
<ellipse class="kw" style="stroke-width:1.2" cx="1225.4" cy="198.3" rx="2.70" ry="3.40" transform="rotate(8 1225.4 198.3)"/>
<path class="kt" d="M 1223.4,203.8 L 1228.9,199.3"/>
<ellipse class="kw" cx="1214.4" cy="180.3" rx="1.20" ry="1.20"/>
<path class="kt" d="M 1212.4,182.3 L 1215.9,184.3"/>
<path class="k" d="M 1194.4,217.3 L 1200.4,220.3 L 1210.4,219.8 L 1213.6,216.3 L 1212.9,212.8"/>
<path class="kw" d="M 1200.8,213.3 L 1200.8,216.5 Q 1204.9,218.8 1209.0,216.5 L 1209.0,213.3 Z"/>
<path class="kw" d="M 1200.8,213.3 L 1202.8,211.9 L 1206.9,211.9 L 1209.0,213.3 L 1206.9,214.7 L 1202.8,214.7 Z"/>
<path class="kt" d="M 1202.8,214.7 L 1202.8,217.5"/>
<path class="kt" d="M 1206.9,214.7 L 1206.9,217.5"/>
<path class="kw" d="M 1200.1,221.8 L 1200.1,224.8 Q 1203.9,226.9 1207.7,224.8 L 1207.7,221.8 Z"/>
<path class="kw" d="M 1200.1,221.8 L 1202.0,220.5 L 1205.8,220.5 L 1207.7,221.8 L 1205.8,223.1 L 1202.0,223.1 Z"/>
<path class="kt" d="M 1202.0,223.1 L 1202.0,225.7"/>
<path class="kt" d="M 1205.8,223.1 L 1205.8,225.7"/>
<path class="kw" d="M 1171.1,222.6 L 1171.1,226.0 Q 1175.4,228.4 1179.7,226.0 L 1179.7,222.6 Z"/>
<path class="kw" d="M 1171.1,222.6 L 1173.2,221.1 L 1177.5,221.1 L 1179.7,222.6 L 1177.5,224.1 L 1173.2,224.1 Z"/>
<path class="kt" d="M 1173.2,224.1 L 1173.2,227.1"/>
<path class="kt" d="M 1177.5,224.1 L 1177.5,227.1"/>
<path d="M 1122.2,128.3 Q 1122.2,130.7 1123.2,133.0 Q 1123.3,135.4 1124.3,137.7 Q 1124.3,140.1 1125.3,142.5 Q 1125.4,144.9 1126.4,147.2 Q 1126.4,149.6 1127.4,151.9 Q 1127.5,154.3 1128.5,156.6 Q 1128.5,159.0 1129.5,161.4 Q 1129.6,163.7 1130.6,166.1 Q 1130.6,168.5 1131.6,170.8 Q 1131.7,173.2 1132.7,175.5 Q 1132.7,177.9 1133.7,180.2 Q 1133.8,182.6 1134.8,185.0 Q 1134.8,187.4 1135.8,189.7 Q 1135.9,192.1 1136.9,194.4 Q 1136.9,196.8 1137.9,199.1 Q 1138.0,201.5 1139.0,203.9 Q 1138.6,204.4 1139.2,204.8 C 1146.3,209.0 1154.4,208.4 1159.5,203.5 Q 1159.5,201.1 1158.4,198.8 Q 1158.4,196.4 1157.3,194.1 Q 1157.3,191.7 1156.2,189.3 Q 1156.2,186.9 1155.2,184.6 Q 1155.1,182.2 1154.1,179.9 Q 1154.0,177.5 1153.0,175.2 Q 1152.9,172.8 1151.9,170.4 Q 1151.9,168.1 1150.8,165.7 Q 1150.8,163.3 1149.7,161.0 Q 1149.7,158.6 1148.6,156.3 Q 1148.6,153.9 1147.5,151.6 Q 1147.5,149.2 1146.5,146.8 Q 1146.4,144.4 1145.4,142.1 Q 1145.3,139.7 1144.3,137.4 Q 1144.2,135.0 1143.2,132.7 Q 1143.2,130.3 1142.1,127.9 Q 1142.5,127.4 1141.9,127.0 Z" fill="#fff" stroke="#000" stroke-width="1.10" stroke-linejoin="round"/>
<path d="M 1123.2,133.0 C 1130.2,137.2 1138.1,136.7 1143.0,131.7 M 1124.3,137.7 C 1131.3,141.9 1139.2,141.4 1144.1,136.4 M 1125.3,142.5 C 1132.3,146.6 1140.2,146.1 1145.2,141.2 M 1126.4,147.2 C 1133.4,151.3 1141.3,150.8 1146.2,145.9 M 1127.4,151.9 C 1134.4,156.1 1142.4,155.5 1147.3,150.6 M 1128.5,156.6 C 1135.5,160.8 1143.5,160.3 1148.4,155.3 M 1129.5,161.4 C 1136.6,165.5 1144.5,165.0 1149.5,160.1 M 1130.6,166.1 C 1137.6,170.2 1145.6,169.7 1150.6,164.8 M 1131.6,170.8 C 1138.7,175.0 1146.7,174.4 1151.7,169.5 M 1132.7,175.5 C 1139.7,179.7 1147.8,179.2 1152.8,174.2 M 1133.7,180.2 C 1140.8,184.4 1148.8,183.9 1153.9,178.9 M 1134.8,185.0 C 1141.9,189.1 1149.9,188.6 1154.9,183.7 M 1135.8,189.7 C 1142.9,193.8 1151.0,193.3 1156.0,188.4 M 1136.9,194.4 C 1144.0,198.6 1152.1,198.0 1157.1,193.1 M 1137.9,199.1 C 1145.0,203.3 1153.1,202.8 1158.2,197.8" fill="none" stroke="#000" stroke-width="1.50" stroke-linecap="round"/>
<path class="k" d="M 1138.8,199.3 L 1138.8,210.8"/>
<path d="M 1136.0,134.8 Q 1136.0,137.2 1137.1,139.5 Q 1137.1,141.9 1138.1,144.3 Q 1138.2,146.7 1139.2,149.0 Q 1139.2,151.4 1140.3,153.8 Q 1140.3,156.2 1141.3,158.5 Q 1141.4,160.9 1142.4,163.3 Q 1142.4,165.7 1143.5,168.0 Q 1143.5,170.4 1144.5,172.7 Q 1144.6,175.1 1145.6,177.5 Q 1145.6,179.9 1146.7,182.2 Q 1146.7,184.6 1147.7,187.0 Q 1147.8,189.4 1148.8,191.7 Q 1148.8,194.1 1149.9,196.4 Q 1149.9,198.8 1150.9,201.2 Q 1151.0,203.6 1152.0,205.9 Q 1151.5,206.2 1152.1,206.4 C 1159.1,210.7 1167.1,210.1 1171.9,204.9 Q 1171.8,202.5 1170.8,200.2 Q 1170.7,197.8 1169.7,195.4 Q 1169.7,193.0 1168.6,190.7 Q 1168.6,188.3 1167.5,186.0 Q 1167.5,183.6 1166.4,181.3 Q 1166.4,178.9 1165.3,176.5 Q 1165.3,174.1 1164.2,171.8 Q 1164.2,169.4 1163.1,167.1 Q 1163.1,164.7 1162.0,162.3 Q 1162.0,159.9 1160.9,157.6 Q 1160.9,155.2 1159.8,152.9 Q 1159.8,150.5 1158.7,148.2 Q 1158.7,145.8 1157.6,143.4 Q 1157.6,141.0 1156.5,138.7 Q 1156.5,136.3 1155.4,134.0 Q 1155.9,133.7 1155.3,133.5 Z" fill="#fff" stroke="#000" stroke-width="1.10" stroke-linejoin="round"/>
<path d="M 1137.1,139.5 C 1144.0,143.9 1151.7,143.4 1156.4,138.2 M 1138.1,144.3 C 1145.0,148.7 1152.8,148.2 1157.5,143.0 M 1139.2,149.0 C 1146.1,153.4 1153.9,152.9 1158.6,147.7 M 1140.3,153.8 C 1147.2,158.2 1155.0,157.6 1159.7,152.4 M 1141.3,158.5 C 1148.3,162.9 1156.1,162.3 1160.8,157.1 M 1142.4,163.3 C 1149.3,167.6 1157.1,167.1 1161.9,161.9 M 1143.5,168.0 C 1150.4,172.4 1158.2,171.8 1163.0,166.6 M 1144.5,172.7 C 1151.5,177.1 1159.3,176.5 1164.1,171.3 M 1145.6,177.5 C 1152.6,181.8 1160.4,181.3 1165.2,176.1 M 1146.7,182.2 C 1153.6,186.6 1161.5,186.0 1166.3,180.8 M 1147.7,187.0 C 1154.7,191.3 1162.6,190.7 1167.4,185.5 M 1148.8,191.7 C 1155.8,196.1 1163.7,195.5 1168.5,190.2 M 1149.9,196.4 C 1156.9,200.8 1164.8,200.2 1169.6,195.0 M 1150.9,201.2 C 1158.0,205.5 1165.9,204.9 1170.7,199.7" fill="none" stroke="#000" stroke-width="1.50" stroke-linecap="round"/>
<path class="kw" style="stroke-width:1.2" d="M 1120.5,124.9 L 1123.9,121.2 L 1133.6,118.2 L 1137.4,120.2 L 1146.6,124.0 C 1151.4,126.6 1153.6,129.4 1154.4,132.8 C 1151.4,135.4 1146.4,137.0 1141.9,137.0 L 1135.9,135.6 L 1120.6,126.6 Z"/>
<path class="kb" d="M 1120.7,126.9 L 1135.9,135.9 L 1141.9,137.3 C 1146.4,137.3 1151.4,135.8 1154.4,133.2"/>
<path class="kt" d="M 1144.9,132.6 L 1150.4,131.1"/>
<path class="kt" d="M 1145.9,133.9 L 1151.4,132.2"/>
<ellipse class="kw" cx="1150.2" cy="138.8" rx="1.00" ry="1.30"/>
<path class="kw" style="stroke-width:1.25" d="M 1124.5,121.6 L 1124.5,124.6 Q 1129.0,127.0 1133.5,124.6 L 1133.5,121.6 Z"/>
<path class="kw" style="stroke-width:1.25" d="M 1124.5,121.6 L 1126.8,120.1 L 1131.2,120.1 L 1133.5,121.6 L 1131.2,123.1 L 1126.8,123.1 Z"/>
<path class="kt" d="M 1126.8,123.1 L 1126.8,125.7"/>
<path class="kt" d="M 1131.2,123.1 L 1131.2,125.7"/>
<path class="kw" d="M 1124.6,112.1 L 1126.2,121.2 Q 1128.8,122.0 1131.4,120.4 L 1130.2,111.8 Z"/>
<ellipse class="kw" style="stroke-width:1.2" cx="1127.4" cy="111.8" rx="2.80" ry="1.50" transform="rotate(-8 1127.4 111.8)"/>
<path class="kw" style="stroke-width:1.25" d="M 1138.0,129.6 L 1138.0,132.6 Q 1142.5,135.0 1147.0,132.6 L 1147.0,129.6 Z"/>
<path class="kw" style="stroke-width:1.25" d="M 1138.0,129.6 L 1140.2,128.1 L 1144.8,128.1 L 1147.0,129.6 L 1144.8,131.1 L 1140.2,131.1 Z"/>
<path class="kt" d="M 1140.2,131.1 L 1140.2,133.7"/>
<path class="kt" d="M 1144.8,131.1 L 1144.8,133.7"/>
<path class="kw" d="M 1138.1,120.1 L 1139.7,129.2 Q 1142.3,130.0 1144.9,128.4 L 1143.7,119.8 Z"/>
<ellipse class="kw" style="stroke-width:1.2" cx="1140.9" cy="119.8" rx="2.80" ry="1.50" transform="rotate(-8 1140.9 119.8)"/>
<path class="kw" d="M 1140.7,234.6 L 1140.7,238.8 Q 1145.9,241.7 1151.2,238.8 L 1151.2,234.6 Z"/>
<path class="kw" d="M 1140.7,234.6 L 1143.3,232.7 L 1148.5,232.7 L 1151.2,234.6 L 1148.5,236.4 L 1143.3,236.4 Z"/>
<path class="kt" d="M 1143.3,236.4 L 1143.3,240.0"/>
<path class="kt" d="M 1148.5,236.4 L 1148.5,240.0"/>
<path class="kw" d="M 1153.4,231.8 L 1153.4,234.8 L 1156.7,236.8 L 1159.9,235.6 L 1159.9,229.3"/>
<path class="kw" d="M 1161.9,221.8 L 1163.4,229.3 L 1161.4,231.8 L 1163.9,234.1 L 1166.9,233.6 L 1165.4,222.8 Z"/>
<path class="k" d="M 1166.4,222.8 L 1166.9,224.8 L 1169.2,224.6 L 1169.7,233.3 L 1167.4,233.8"/>
<path class="kw" d="M 1134.9,226.3 L 1134.9,228.1 L 1143.9,233.6 L 1154.7,231.8 L 1161.9,228.6 L 1161.9,227.3"/>
<path class="kw" d="M 1133.9,217.3 L 1143.9,222.6 L 1143.9,231.8 L 1134.2,226.4 Z"/>
<path class="kw" d="M 1143.9,222.6 L 1153.4,219.7 L 1161.9,220.3 L 1161.9,227.3 L 1143.9,231.8 Z"/>
<path class="kw" d="M 1133.9,217.3 L 1134.9,212.3 Q 1135.4,211.4 1137.4,211.1 L 1152.9,211.8 L 1153.4,219.7 L 1143.9,222.6 Z"/>
<path class="kw" d="M 1141.2,208.1 L 1141.7,212.3 Q 1145.9,214.8 1150.7,212.3 L 1150.7,208.1 Z"/>
<ellipse class="kw" cx="1145.9" cy="207.9" rx="4.80" ry="1.90"/>
<path class="kt" d="M 1143.9,209.7 L 1144.2,213.6"/>
<path class="kt" d="M 1147.9,209.7 L 1148.2,213.6"/>
<path class="kw" d="M 1152.9,211.8 Q 1165.4,212.4 1181.9,211.1 L 1182.4,208.8 L 1182.7,219.6 Q 1181.4,220.7 1179.4,220.8 L 1153.4,219.7 Z"/>
<path class="k" d="M 1182.2,211.3 L 1182.4,219.8"/>
<path class="kw" d="M 1172.9,209.6 L 1172.9,181.7 C 1172.9,175.7 1175.4,172.7 1180.4,171.5 L 1201.4,166.2 C 1207.4,164.7 1210.4,167.7 1210.4,173.7 L 1210.4,200.3 Q 1207.7,201.3 1204.9,200.3 L 1204.9,176.2 C 1204.9,172.7 1203.4,171.2 1200.4,172.0 L 1183.4,176.7 C 1179.4,177.9 1177.9,179.7 1177.9,183.2 L 1177.9,209.6 Q 1175.4,210.6 1172.9,209.6 Z"/>
</g>
<path class="w" d="M 1270.0,227.5 L 1280.0,251.0 L 1282.0,260.0 L 1286.0,275.0 L 1289.0,290.0 L 1289.3,303.0 L 1288.0,315.0 L 1284.0,335.0 L 1274.0,355.0 L 1260.0,374.0 L 1246.5,389.0 L 1226.5,400.0 L 1226.5,400.0 L 1232.0,381.0 L 1240.0,369.0 L 1256.0,352.0 L 1267.0,333.0 L 1273.0,315.0 L 1275.0,303.0 L 1276.5,290.0 L 1275.0,275.0 L 1272.0,260.0 L 1270.0,245.0 L 1270.0,227.5 Z"/>
<path class="k" d="M 1270.0,227.5 C 1270.0,230.4 1269.7,239.6 1270.0,245.0 C 1270.3,250.4 1271.2,255.0 1272.0,260.0 C 1272.8,265.0 1274.2,270.0 1275.0,275.0 C 1275.8,280.0 1276.5,285.3 1276.5,290.0 C 1276.5,294.7 1275.6,298.8 1275.0,303.0 C 1274.4,307.2 1274.3,310.0 1273.0,315.0 C 1271.7,320.0 1269.8,326.8 1267.0,333.0 C 1264.2,339.2 1260.5,346.0 1256.0,352.0 C 1251.5,358.0 1244.0,364.2 1240.0,369.0 C 1236.0,373.8 1234.2,375.8 1232.0,381.0 C 1229.8,386.2 1227.4,396.8 1226.5,400.0"/>
<path class="k" d="M 1270.0,227.5 C 1271.7,231.4 1278.0,245.6 1280.0,251.0 C 1282.0,256.4 1281.0,256.0 1282.0,260.0 C 1283.0,264.0 1284.8,270.0 1286.0,275.0 C 1287.2,280.0 1288.5,285.3 1289.0,290.0 C 1289.5,294.7 1289.5,298.8 1289.3,303.0 C 1289.1,307.2 1288.9,309.7 1288.0,315.0 C 1287.1,320.3 1286.3,328.3 1284.0,335.0 C 1281.7,341.7 1278.0,348.5 1274.0,355.0 C 1270.0,361.5 1264.6,368.3 1260.0,374.0 C 1255.4,379.7 1248.8,386.5 1246.5,389.0"/>
<path class="k" d="M 1271.0,244.0 C 1272.5,247.0 1277.8,256.7 1280.0,262.0 C 1282.2,267.3 1282.9,271.3 1284.0,276.0 C 1285.1,280.7 1286.0,285.5 1286.5,290.0 C 1287.0,294.5 1287.0,298.0 1286.7,303.0 C 1286.5,308.0 1286.1,313.8 1285.0,320.0 C 1283.9,326.2 1282.5,333.7 1280.0,340.0 C 1277.5,346.3 1274.2,352.0 1270.0,358.0 C 1265.8,364.0 1257.5,373.0 1255.0,376.0"/>
<path class="kt" d="M 1270.5,236.0 C 1272.2,239.7 1278.0,251.3 1280.5,258.0 C 1283.0,264.7 1284.0,270.7 1285.2,276.0 C 1286.4,281.3 1287.3,285.5 1287.8,290.0 C 1288.3,294.5 1288.2,298.3 1288.0,303.0 C 1287.8,307.7 1287.5,312.2 1286.5,318.0 C 1285.5,323.8 1284.4,331.6 1282.0,338.0 C 1279.6,344.4 1276.0,350.4 1272.0,356.5 C 1268.0,362.6 1260.3,371.5 1258.0,374.5"/>
<path class="kb" d="M 1270.0,227.5 L 1280.0,251.0"/>
<path class="kb" d="M 1246.5,389.0 L 1226.5,400.0"/>
<path class="k" d="M 1240.0,368.0 L 1236.0,386.0 L 1254.0,376.5"/>
<path class="k" d="M 1236.0,386.0 L 1227.0,400.0"/>
<ellipse class="kw" cx="1281.0" cy="282.5" rx="2.30" ry="3.30" transform="rotate(-10 1281.0 282.5)" style="stroke-width:1.1"/>
<path class="kt" d="M 1279.5,282.8 L 1282.6,282.3"/>
<path class="kt" d="M 1281.0,280.0 L 1281.3,285.0"/>
<ellipse class="kw" cx="1281.0" cy="300.5" rx="2.30" ry="3.30" transform="rotate(-10 1281.0 300.5)" style="stroke-width:1.1"/>
<path class="kt" d="M 1279.5,300.8 L 1282.6,300.3"/>
<path class="kt" d="M 1281.0,298.0 L 1281.3,303.0"/>
<ellipse class="k" cx="1278.0" cy="318.5" rx="1.30" ry="2.00" style="fill:#fff;stroke-width:0.8"/>
<path class="c" d="M 1249.5,326.5 L 1270.0,335.0"/>
<path class="c" d="M 1246.5,342.0 L 1261.0,351.0"/>
<ellipse class="k" cx="1271.8" cy="335.5" rx="2.90" ry="3.90" transform="rotate(20 1271.8 335.5)" style="fill:#2f3d47;stroke-width:1"/>
<ellipse class="k" cx="1271.8" cy="335.5" rx="1.20" ry="1.80" transform="rotate(20 1271.8 335.5)" style="fill:#7fc0e4;stroke:#1e9fd6;stroke-width:0.7"/>
<ellipse class="k" cx="1262.3" cy="351.7" rx="2.90" ry="3.90" transform="rotate(20 1262.3 351.7)" style="fill:#2f3d47;stroke-width:1"/>
<ellipse class="k" cx="1262.3" cy="351.7" rx="1.20" ry="1.80" transform="rotate(20 1262.3 351.7)" style="fill:#7fc0e4;stroke:#1e9fd6;stroke-width:0.7"/>
<path class="kw" style="stroke-width:1.15" d="M 1235.5,324.0 L 1249.0,328.2 L 1250.0,324.8 L 1236.6,320.5 Z"/>
<ellipse class="kf" cx="1234.9" cy="321.9" rx="2.70" ry="3.60" transform="rotate(17.560272051800737 1234.9 321.9)"/>
<ellipse class="kw" style="stroke-width:1.3" cx="1233.7" cy="321.5" rx="2.70" ry="3.60" transform="rotate(17.560272051800737 1233.7 321.5)"/>
<path class="kw" style="stroke-width:1.15" d="M 1233.7,336.6 L 1245.6,343.6 L 1247.4,340.4 L 1235.6,333.5 Z"/>
<ellipse class="kf" cx="1233.6" cy="334.5" rx="2.70" ry="3.60" transform="rotate(30.3581154587666 1233.6 334.5)"/>
<ellipse class="kw" style="stroke-width:1.3" cx="1232.5" cy="333.8" rx="2.70" ry="3.60" transform="rotate(30.3581154587666 1232.5 333.8)"/>
<path class="ld" d="M1181.0,324.1 L1222.6,333.8"/>
<path class="ah" d="M1228.0,335.1 L1222.3,335.5 L1223.0,332.2 Z"/>
<path class="ld" d="M1175.3,405.9 L1222.7,393.1"/>
<path class="ah" d="M1228.0,391.7 L1223.1,394.8 L1222.2,391.5 Z"/>
<path class="ld" d="M1318.0,402.0 L1307.6,382.4"/>
<path class="ah" d="M1305.0,377.5 L1309.1,381.6 L1306.1,383.2 Z"/>

<!-- 51_fig16lh.svg -->
<path class="c" d="M 1269.0,711.3 L 1318.0,729.5"/>
<path class="c" d="M 1256.0,722.0 L 1307.0,751.0"/>
<path class="w" d="M 1237.5,569.2 L 1254.0,571.5 L 1274.0,580.0 L 1294.0,595.0 L 1309.0,613.0 L 1318.0,632.0 L 1323.0,652.0 L 1323.7,670.0 L 1321.0,690.0 L 1314.0,715.0 L 1308.0,730.0 L 1300.0,743.0 L 1293.0,752.0 L 1281.0,753.5 L 1272.5,749.0 L 1282.0,735.0 L 1290.0,717.0 L 1295.5,708.0 L 1300.0,696.0 L 1303.0,684.0 L 1304.8,673.0 L 1305.5,662.0 L 1304.5,650.0 L 1301.0,630.0 L 1294.0,612.0 L 1284.0,600.0 L 1269.0,590.0 L 1254.0,585.5 L 1234.0,585.0 L 1223.5,587.2 Z"/>
<path class="k" d="M 1237.5,569.2 C 1240.2,569.6 1247.9,569.7 1254.0,571.5 C 1260.1,573.3 1267.3,576.1 1274.0,580.0 C 1280.7,583.9 1288.2,589.5 1294.0,595.0 C 1299.8,600.5 1305.0,606.8 1309.0,613.0 C 1313.0,619.2 1315.7,625.5 1318.0,632.0 C 1320.3,638.5 1322.0,645.7 1323.0,652.0 C 1324.0,658.3 1324.0,663.7 1323.7,670.0 C 1323.4,676.3 1322.6,682.5 1321.0,690.0 C 1319.4,697.5 1316.2,708.3 1314.0,715.0 C 1311.8,721.7 1310.3,725.3 1308.0,730.0 C 1305.7,734.7 1302.5,739.3 1300.0,743.0 C 1297.5,746.7 1294.2,750.5 1293.0,752.0"/>
<path class="k" d="M 1223.5,587.2 C 1225.2,586.8 1228.9,585.3 1234.0,585.0 C 1239.1,584.7 1248.2,584.7 1254.0,585.5 C 1259.8,586.3 1264.0,587.6 1269.0,590.0 C 1274.0,592.4 1279.8,596.3 1284.0,600.0 C 1288.2,603.7 1291.2,607.0 1294.0,612.0 C 1296.8,617.0 1299.2,623.7 1301.0,630.0 C 1302.8,636.3 1303.8,644.7 1304.5,650.0 C 1305.2,655.3 1305.5,658.2 1305.5,662.0 C 1305.5,665.8 1305.2,669.3 1304.8,673.0 C 1304.4,676.7 1303.8,680.2 1303.0,684.0 C 1302.2,687.8 1301.2,692.0 1300.0,696.0 C 1298.8,700.0 1297.2,704.5 1295.5,708.0 C 1293.8,711.5 1292.2,712.5 1290.0,717.0 C 1287.8,721.5 1284.9,729.7 1282.0,735.0 C 1279.1,740.3 1274.1,746.7 1272.5,749.0"/>
<path class="k" d="M 1278.0,595.5 C 1279.3,596.3 1283.3,598.6 1286.0,600.5 C 1288.7,602.4 1291.5,604.4 1294.0,607.0 C 1296.5,609.6 1299.0,613.0 1301.0,616.0 C 1303.0,619.0 1304.4,621.5 1306.0,625.0 C 1307.6,628.5 1309.2,632.8 1310.5,637.0 C 1311.8,641.2 1312.7,645.5 1313.5,650.0 C 1314.3,654.5 1315.0,659.0 1315.2,664.0 C 1315.4,669.0 1315.3,674.0 1314.5,680.0 C 1313.7,686.0 1312.2,693.3 1310.5,700.0 C 1308.8,706.7 1306.8,713.7 1304.0,720.0 C 1301.2,726.3 1297.8,732.4 1294.0,738.0 C 1290.2,743.6 1283.6,750.9 1281.5,753.5"/>
<path class="k" d="M 1237.8,575.8 C 1239.2,575.7 1243.3,575.1 1246.0,575.0 C 1248.7,574.9 1251.5,574.9 1254.0,575.0 C 1256.5,575.1 1258.5,575.3 1261.0,575.8 C 1263.5,576.3 1266.5,577.1 1269.0,578.0 C 1271.5,578.9 1273.7,579.7 1276.0,581.0 C 1278.3,582.3 1281.8,585.0 1283.0,585.8"/>
<path class="k" d="M 1293.0,752.0 L 1281.0,753.5 L 1272.5,749.0"/>
<ellipse class="k" cx="1296.0" cy="721.0" rx="1.50" ry="2.10" transform="rotate(20 1296.0 721.0)" style="fill:#fff;stroke:#12303f;stroke-width:0.9"/>
<ellipse class="kw" cx="1285.5" cy="737.5" rx="1.70" ry="4.30" transform="rotate(27 1285.5 737.5)" style="stroke:#12303f;stroke-width:1"/>
<path class="c" d="M 1290.0,719.0 L 1294.5,720.5"/>
<path class="c" d="M 1280.0,735.0 L 1284.0,737.0"/>
<ellipse class="kf" cx="1321.5" cy="730.7" rx="4.27" ry="4.50" transform="rotate(20 1321.5 730.7)"/>
<ellipse class="k" cx="1320.5" cy="730.0" rx="3.96" ry="4.41" transform="rotate(20 1320.5 730.0)" style="fill:#3d4f5c;stroke-width:1.1"/>
<ellipse class="k" cx="1320.3" cy="729.8" rx="2.48" ry="2.79" transform="rotate(20 1320.3 729.8)" style="fill:#8cc8e8;stroke-width:0.9"/>
<ellipse class="k" cx="1320.3" cy="729.8" rx="1.12" ry="1.35" transform="rotate(20 1320.3 729.8)" style="fill:#dff0fa;stroke:#2a6f95;stroke-width:0.7"/>
<ellipse class="kf" cx="1310.0" cy="752.7" rx="4.27" ry="4.50" transform="rotate(20 1310.0 752.7)"/>
<ellipse class="k" cx="1309.0" cy="752.0" rx="3.96" ry="4.41" transform="rotate(20 1309.0 752.0)" style="fill:#3d4f5c;stroke-width:1.1"/>
<ellipse class="k" cx="1308.8" cy="751.8" rx="2.48" ry="2.79" transform="rotate(20 1308.8 751.8)" style="fill:#8cc8e8;stroke-width:0.9"/>
<ellipse class="k" cx="1308.8" cy="751.8" rx="1.12" ry="1.35" transform="rotate(20 1308.8 751.8)" style="fill:#dff0fa;stroke:#2a6f95;stroke-width:0.7"/>
<g class="asm">
<path class="kw" d="M 1168.5,533.0 L 1183.0,529.1 C 1190.0,527.3 1193.5,530.5 1193.5,536.5 L 1193.5,550.0 L 1187.5,550.0 L 1187.5,539.0 C 1187.5,536.0 1186.5,534.5 1183.0,535.1 L 1169.0,538.8 Z"/>
<path class="kw" d="M 1188.5,587.0 L 1182.5,587.0 L 1182.5,555.0 L 1210.0,549.0 L 1214.0,560.0 L 1218.0,561.8 L 1224.0,564.0 C 1232.0,565.0 1238.0,570.0 1237.5,576.0 C 1237.5,582.0 1233.0,585.5 1224.0,586.8 L 1220.0,588.5 L 1204.0,593.2 L 1188.5,597.8 Z"/>
<path class="k" d="M 1204.5,553.0 C 1199.0,556.0 1198.5,563.0 1202.0,567.5 L 1205.5,570.0 L 1206.5,568.5 L 1203.0,566.2"/>
<path class="kt" d="M 1195.5,560.5 C 1196.0,564.0 1197.5,566.2 1200.0,568.0"/>
<path class="k" d="M 1186.0,558.5 L 1188.5,559.0 L 1188.5,563.5 L 1191.0,563.5 L 1191.2,559.5 L 1195.0,558.5"/>
<path class="kt" d="M 1207.5,552.2 L 1212.5,555.2"/>
<path class="kt" d="M 1218.0,561.8 L 1224.0,559.5 L 1227.0,563.2"/>
<path class="k" d="M 1188.5,587.0 C 1199.0,583.0 1207.0,580.5 1214.0,580.0 C 1219.0,579.8 1222.5,578.5 1224.0,575.5"/>
<path class="kt" d="M 1189.5,585.5 L 1201.0,582.0"/>
<path class="kw" d="M 1229.0,568.2 L 1230.3,573.0 L 1230.6,580.0 L 1229.0,584.5 C 1227.0,580.0 1227.0,573.0 1229.0,568.2 Z"/>
<path class="kf" d="M 1229.0,568.2 L 1230.0,574.0 L 1229.2,580.0 L 1229.0,584.5 L 1228.3,576.5 Z"/>
<ellipse class="kw" style="stroke-width:1.2" cx="1232.0" cy="576.5" rx="2.70" ry="3.40" transform="rotate(8 1232.0 576.5)"/>
<path class="kt" d="M 1230.0,582.0 L 1235.5,577.5"/>
<ellipse class="kw" cx="1221.0" cy="558.5" rx="1.20" ry="1.20"/>
<path class="kt" d="M 1219.0,560.5 L 1222.5,562.5"/>
<path class="k" d="M 1201.0,595.5 L 1207.0,598.5 L 1217.0,598.0 L 1220.2,594.5 L 1219.5,591.0"/>
<path class="kw" d="M 1207.4,591.5 L 1207.4,594.7 Q 1211.5,597.0 1215.6,594.7 L 1215.6,591.5 Z"/>
<path class="kw" d="M 1207.4,591.5 L 1209.5,590.1 L 1213.5,590.1 L 1215.6,591.5 L 1213.5,592.9 L 1209.5,592.9 Z"/>
<path class="kt" d="M 1209.5,592.9 L 1209.5,595.7"/>
<path class="kt" d="M 1213.5,592.9 L 1213.5,595.7"/>
<path class="kw" d="M 1206.7,600.0 L 1206.7,603.0 Q 1210.5,605.1 1214.3,603.0 L 1214.3,600.0 Z"/>
<path class="kw" d="M 1206.7,600.0 L 1208.6,598.7 L 1212.4,598.7 L 1214.3,600.0 L 1212.4,601.3 L 1208.6,601.3 Z"/>
<path class="kt" d="M 1208.6,601.3 L 1208.6,603.9"/>
<path class="kt" d="M 1212.4,601.3 L 1212.4,603.9"/>
<path class="kw" d="M 1177.7,600.8 L 1177.7,604.2 Q 1182.0,606.6 1186.3,604.2 L 1186.3,600.8 Z"/>
<path class="kw" d="M 1177.7,600.8 L 1179.8,599.3 L 1184.2,599.3 L 1186.3,600.8 L 1184.2,602.3 L 1179.8,602.3 Z"/>
<path class="kt" d="M 1179.8,602.3 L 1179.8,605.3"/>
<path class="kt" d="M 1184.2,602.3 L 1184.2,605.3"/>
<path d="M 1128.8,506.5 Q 1128.8,508.9 1129.8,511.2 Q 1129.9,513.6 1130.9,515.9 Q 1130.9,518.3 1131.9,520.7 Q 1132.0,523.1 1133.0,525.4 Q 1133.0,527.8 1134.0,530.1 Q 1134.1,532.5 1135.1,534.8 Q 1135.1,537.2 1136.1,539.6 Q 1136.2,541.9 1137.2,544.3 Q 1137.2,546.7 1138.2,549.0 Q 1138.3,551.4 1139.3,553.7 Q 1139.3,556.1 1140.3,558.4 Q 1140.4,560.8 1141.4,563.2 Q 1141.4,565.6 1142.4,567.9 Q 1142.5,570.3 1143.5,572.6 Q 1143.5,575.0 1144.5,577.3 Q 1144.6,579.7 1145.6,582.1 Q 1145.2,582.6 1145.8,583.0 C 1152.9,587.2 1161.0,586.6 1166.1,581.7 Q 1166.1,579.3 1165.0,577.0 Q 1165.0,574.6 1163.9,572.3 Q 1163.9,569.9 1162.8,567.5 Q 1162.8,565.1 1161.8,562.8 Q 1161.7,560.4 1160.7,558.1 Q 1160.6,555.7 1159.6,553.4 Q 1159.5,551.0 1158.5,548.6 Q 1158.5,546.3 1157.4,543.9 Q 1157.4,541.5 1156.3,539.2 Q 1156.3,536.8 1155.2,534.5 Q 1155.2,532.1 1154.1,529.8 Q 1154.1,527.4 1153.1,525.0 Q 1153.0,522.6 1152.0,520.3 Q 1151.9,517.9 1150.9,515.6 Q 1150.8,513.2 1149.8,510.9 Q 1149.8,508.5 1148.7,506.1 Q 1149.1,505.6 1148.5,505.2 Z" fill="#fff" stroke="#000" stroke-width="1.10" stroke-linejoin="round"/>
<path d="M 1129.8,511.2 C 1136.8,515.4 1144.7,514.9 1149.6,509.9 M 1130.9,515.9 C 1137.9,520.1 1145.8,519.6 1150.7,514.6 M 1131.9,520.7 C 1138.9,524.8 1146.8,524.3 1151.8,519.4 M 1133.0,525.4 C 1140.0,529.5 1147.9,529.0 1152.8,524.1 M 1134.0,530.1 C 1141.0,534.3 1149.0,533.7 1153.9,528.8 M 1135.1,534.8 C 1142.1,539.0 1150.1,538.5 1155.0,533.5 M 1136.1,539.6 C 1143.2,543.7 1151.1,543.2 1156.1,538.3 M 1137.2,544.3 C 1144.2,548.4 1152.2,547.9 1157.2,543.0 M 1138.2,549.0 C 1145.3,553.2 1153.3,552.6 1158.3,547.7 M 1139.3,553.7 C 1146.3,557.9 1154.4,557.4 1159.4,552.4 M 1140.3,558.4 C 1147.4,562.6 1155.4,562.1 1160.5,557.1 M 1141.4,563.2 C 1148.5,567.3 1156.5,566.8 1161.5,561.9 M 1142.4,567.9 C 1149.5,572.0 1157.6,571.5 1162.6,566.6 M 1143.5,572.6 C 1150.6,576.8 1158.7,576.2 1163.7,571.3 M 1144.5,577.3 C 1151.6,581.5 1159.7,581.0 1164.8,576.0" fill="none" stroke="#000" stroke-width="1.50" stroke-linecap="round"/>
<path class="k" d="M 1145.4,577.5 L 1145.4,589.0"/>
<path d="M 1142.6,513.0 Q 1142.6,515.4 1143.7,517.7 Q 1143.7,520.1 1144.7,522.5 Q 1144.8,524.9 1145.8,527.2 Q 1145.8,529.6 1146.9,532.0 Q 1146.9,534.4 1147.9,536.7 Q 1148.0,539.1 1149.0,541.5 Q 1149.0,543.9 1150.1,546.2 Q 1150.1,548.6 1151.1,550.9 Q 1151.2,553.3 1152.2,555.7 Q 1152.2,558.1 1153.3,560.4 Q 1153.3,562.8 1154.3,565.2 Q 1154.4,567.6 1155.4,569.9 Q 1155.4,572.3 1156.5,574.6 Q 1156.5,577.0 1157.5,579.4 Q 1157.6,581.8 1158.6,584.1 Q 1158.1,584.4 1158.7,584.6 C 1165.7,588.9 1173.7,588.3 1178.5,583.1 Q 1178.4,580.7 1177.4,578.4 Q 1177.3,576.0 1176.3,573.6 Q 1176.3,571.2 1175.2,568.9 Q 1175.2,566.5 1174.1,564.2 Q 1174.1,561.8 1173.0,559.5 Q 1173.0,557.1 1171.9,554.7 Q 1171.9,552.3 1170.8,550.0 Q 1170.8,547.6 1169.7,545.3 Q 1169.7,542.9 1168.6,540.5 Q 1168.6,538.1 1167.5,535.8 Q 1167.5,533.4 1166.4,531.1 Q 1166.4,528.7 1165.3,526.4 Q 1165.3,524.0 1164.2,521.6 Q 1164.2,519.2 1163.1,516.9 Q 1163.1,514.5 1162.0,512.2 Q 1162.5,511.9 1161.9,511.7 Z" fill="#fff" stroke="#000" stroke-width="1.10" stroke-linejoin="round"/>
<path d="M 1143.7,517.7 C 1150.6,522.1 1158.3,521.6 1163.0,516.4 M 1144.7,522.5 C 1151.6,526.9 1159.4,526.4 1164.1,521.2 M 1145.8,527.2 C 1152.7,531.6 1160.5,531.1 1165.2,525.9 M 1146.9,532.0 C 1153.8,536.4 1161.6,535.8 1166.3,530.6 M 1147.9,536.7 C 1154.9,541.1 1162.7,540.5 1167.4,535.3 M 1149.0,541.5 C 1155.9,545.8 1163.7,545.3 1168.5,540.1 M 1150.1,546.2 C 1157.0,550.6 1164.8,550.0 1169.6,544.8 M 1151.1,550.9 C 1158.1,555.3 1165.9,554.7 1170.7,549.5 M 1152.2,555.7 C 1159.2,560.0 1167.0,559.5 1171.8,554.3 M 1153.3,560.4 C 1160.2,564.8 1168.1,564.2 1172.9,559.0 M 1154.3,565.2 C 1161.3,569.5 1169.2,568.9 1174.0,563.7 M 1155.4,569.9 C 1162.4,574.3 1170.3,573.7 1175.1,568.4 M 1156.5,574.6 C 1163.5,579.0 1171.4,578.4 1176.2,573.2 M 1157.5,579.4 C 1164.6,583.7 1172.5,583.1 1177.3,577.9" fill="none" stroke="#000" stroke-width="1.50" stroke-linecap="round"/>
<path class="kw" style="stroke-width:1.2" d="M 1127.1,503.1 L 1130.5,499.4 L 1140.2,496.4 L 1144.0,498.4 L 1153.2,502.2 C 1158.0,504.8 1160.2,507.6 1161.0,511.0 C 1158.0,513.6 1153.0,515.2 1148.5,515.2 L 1142.5,513.8 L 1127.2,504.8 Z"/>
<path class="kb" d="M 1127.3,505.1 L 1142.5,514.1 L 1148.5,515.5 C 1153.0,515.5 1158.0,514.0 1161.0,511.4"/>
<path class="kt" d="M 1151.5,510.8 L 1157.0,509.3"/>
<path class="kt" d="M 1152.5,512.1 L 1158.0,510.4"/>
<ellipse class="kw" cx="1156.8" cy="517.0" rx="1.00" ry="1.30"/>
<path class="kw" style="stroke-width:1.25" d="M 1131.1,499.8 L 1131.1,502.8 Q 1135.6,505.2 1140.1,502.8 L 1140.1,499.8 Z"/>
<path class="kw" style="stroke-width:1.25" d="M 1131.1,499.8 L 1133.3,498.3 L 1137.8,498.3 L 1140.1,499.8 L 1137.8,501.3 L 1133.3,501.3 Z"/>
<path class="kt" d="M 1133.3,501.3 L 1133.3,503.9"/>
<path class="kt" d="M 1137.8,501.3 L 1137.8,503.9"/>
<path class="kw" d="M 1131.2,490.3 L 1132.8,499.4 Q 1135.4,500.2 1138.0,498.6 L 1136.8,490.0 Z"/>
<ellipse class="kw" style="stroke-width:1.2" cx="1134.0" cy="490.0" rx="2.80" ry="1.50" transform="rotate(-8 1134.0 490.0)"/>
<path class="kw" style="stroke-width:1.25" d="M 1144.6,507.8 L 1144.6,510.8 Q 1149.1,513.2 1153.6,510.8 L 1153.6,507.8 Z"/>
<path class="kw" style="stroke-width:1.25" d="M 1144.6,507.8 L 1146.8,506.3 L 1151.3,506.3 L 1153.6,507.8 L 1151.3,509.3 L 1146.8,509.3 Z"/>
<path class="kt" d="M 1146.8,509.3 L 1146.8,511.9"/>
<path class="kt" d="M 1151.3,509.3 L 1151.3,511.9"/>
<path class="kw" d="M 1144.7,498.3 L 1146.3,507.4 Q 1148.9,508.2 1151.5,506.6 L 1150.3,498.0 Z"/>
<ellipse class="kw" style="stroke-width:1.2" cx="1147.5" cy="498.0" rx="2.80" ry="1.50" transform="rotate(-8 1147.5 498.0)"/>
<path class="kw" d="M 1147.2,612.8 L 1147.2,617.0 Q 1152.5,619.9 1157.8,617.0 L 1157.8,612.8 Z"/>
<path class="kw" d="M 1147.2,612.8 L 1149.9,610.9 L 1155.1,610.9 L 1157.8,612.8 L 1155.1,614.6 L 1149.9,614.6 Z"/>
<path class="kt" d="M 1149.9,614.6 L 1149.9,618.2"/>
<path class="kt" d="M 1155.1,614.6 L 1155.1,618.2"/>
<path class="kw" d="M 1160.0,610.0 L 1160.0,613.0 L 1163.2,615.0 L 1166.5,613.8 L 1166.5,607.5"/>
<path class="kw" d="M 1168.5,600.0 L 1170.0,607.5 L 1168.0,610.0 L 1170.5,612.2 L 1173.5,611.8 L 1172.0,601.0 Z"/>
<path class="k" d="M 1173.0,601.0 L 1173.5,603.0 L 1175.8,602.8 L 1176.2,611.5 L 1174.0,612.0"/>
<path class="kw" d="M 1141.5,604.5 L 1141.5,606.2 L 1150.5,611.8 L 1161.2,610.0 L 1168.5,606.8 L 1168.5,605.5"/>
<path class="kw" d="M 1140.5,595.5 L 1150.5,600.8 L 1150.5,610.0 L 1140.8,604.6 Z"/>
<path class="kw" d="M 1150.5,600.8 L 1160.0,597.9 L 1168.5,598.5 L 1168.5,605.5 L 1150.5,610.0 Z"/>
<path class="kw" d="M 1140.5,595.5 L 1141.5,590.5 Q 1142.0,589.6 1144.0,589.2 L 1159.5,590.0 L 1160.0,597.9 L 1150.5,600.8 Z"/>
<path class="kw" d="M 1147.8,586.2 L 1148.2,590.5 Q 1152.5,593.0 1157.2,590.5 L 1157.2,586.2 Z"/>
<ellipse class="kw" cx="1152.5" cy="586.1" rx="4.80" ry="1.90"/>
<path class="kt" d="M 1150.5,587.9 L 1150.8,591.8"/>
<path class="kt" d="M 1154.5,587.9 L 1154.8,591.8"/>
<path class="kw" d="M 1159.5,590.0 Q 1172.0,590.6 1188.5,589.2 L 1189.0,587.0 L 1189.2,597.8 Q 1188.0,598.9 1186.0,599.0 L 1160.0,597.9 Z"/>
<path class="k" d="M 1188.8,589.5 L 1189.0,598.0"/>
<path class="kw" d="M 1179.5,587.8 L 1179.5,559.9 C 1179.5,553.9 1182.0,550.9 1187.0,549.7 L 1208.0,544.4 C 1214.0,542.9 1217.0,545.9 1217.0,551.9 L 1217.0,578.5 Q 1214.3,579.5 1211.5,578.5 L 1211.5,554.4 C 1211.5,550.9 1210.0,549.4 1207.0,550.2 L 1190.0,554.9 C 1186.0,556.1 1184.5,557.9 1184.5,561.4 L 1184.5,587.8 Q 1182.0,588.8 1179.5,587.8 Z"/>
</g>
<path class="w" d="M 1288.2,612.8 L 1299.0,632.0 L 1299.5,646.0 L 1301.0,660.0 L 1300.8,672.0 L 1300.0,682.0 L 1298.5,695.0 L 1294.0,710.0 L 1285.0,728.0 L 1274.0,744.0 L 1260.0,760.0 L 1253.0,767.0 L 1231.0,777.8 L 1231.0,777.8 L 1233.0,770.0 L 1237.0,757.0 L 1244.0,746.0 L 1252.0,739.0 L 1264.0,726.0 L 1272.0,710.0 L 1277.0,695.0 L 1279.0,680.0 L 1280.5,663.0 L 1281.0,650.0 L 1279.8,637.0 L 1280.0,624.0 Z"/>
<path class="k" d="M 1280.0,624.0 C 1280.0,626.2 1279.6,632.7 1279.8,637.0 C 1280.0,641.3 1280.9,645.7 1281.0,650.0 C 1281.1,654.3 1280.8,658.0 1280.5,663.0 C 1280.2,668.0 1279.6,674.7 1279.0,680.0 C 1278.4,685.3 1278.2,690.0 1277.0,695.0 C 1275.8,700.0 1274.2,704.8 1272.0,710.0 C 1269.8,715.2 1267.3,721.2 1264.0,726.0 C 1260.7,730.8 1255.3,735.7 1252.0,739.0 C 1248.7,742.3 1246.5,743.0 1244.0,746.0 C 1241.5,749.0 1238.8,753.0 1237.0,757.0 C 1235.2,761.0 1234.0,766.5 1233.0,770.0 C 1232.0,773.5 1231.3,776.5 1231.0,777.8"/>
<path class="k" d="M 1299.0,632.0 C 1299.1,634.3 1299.2,641.3 1299.5,646.0 C 1299.8,650.7 1300.8,655.7 1301.0,660.0 C 1301.2,664.3 1301.0,668.3 1300.8,672.0 C 1300.6,675.7 1300.4,678.2 1300.0,682.0 C 1299.6,685.8 1299.5,690.3 1298.5,695.0 C 1297.5,699.7 1296.2,704.5 1294.0,710.0 C 1291.8,715.5 1288.3,722.3 1285.0,728.0 C 1281.7,733.7 1278.2,738.7 1274.0,744.0 C 1269.8,749.3 1263.5,756.2 1260.0,760.0 C 1256.5,763.8 1254.2,765.8 1253.0,767.0"/>
<path class="k" d="M 1298.5,646.0 C 1298.6,648.3 1299.2,655.2 1299.3,660.0 C 1299.3,664.8 1299.3,669.5 1298.8,675.0 C 1298.3,680.5 1297.7,687.2 1296.5,693.0 C 1295.3,698.8 1293.8,704.3 1291.5,710.0 C 1289.2,715.7 1285.8,721.5 1282.5,727.0 C 1279.2,732.5 1275.4,738.5 1271.5,743.0 C 1267.6,747.5 1261.1,752.2 1259.0,754.0"/>
<path class="kt" d="M 1300.5,640.0 C 1300.8,643.3 1302.0,653.7 1302.3,660.0 C 1302.5,666.3 1302.4,672.2 1302.0,678.0 C 1301.6,683.8 1300.9,689.5 1299.8,695.0 C 1298.7,700.5 1297.5,705.3 1295.3,711.0 C 1293.0,716.7 1289.6,723.3 1286.3,729.0 C 1283.0,734.7 1279.3,739.7 1275.3,745.0 C 1271.2,750.3 1264.2,758.3 1262.0,761.0"/>
<path class="k" d="M 1280.0,624.0 L 1288.2,612.8 L 1299.0,632.0"/>
<path class="kb" d="M 1288.2,612.8 L 1299.0,632.0"/>
<path class="k" d="M 1288.2,612.8 L 1287.5,626.5 L 1280.0,636.5"/>
<path class="k" d="M 1287.5,626.5 L 1298.5,646.0"/>
<path class="kb" d="M 1253.0,767.0 L 1231.0,777.8"/>
<path class="k" d="M 1244.0,746.0 L 1240.0,763.0 L 1259.0,754.0"/>
<path class="k" d="M 1240.0,763.0 L 1232.0,776.0"/>
<ellipse class="kw" cx="1290.0" cy="661.7" rx="2.30" ry="3.30" transform="rotate(-10 1290.0 661.7)" style="stroke-width:1.1"/>
<path class="kt" d="M 1288.5,662.0 L 1291.6,661.5"/>
<path class="kt" d="M 1290.0,659.2 L 1290.3,664.2"/>
<ellipse class="kw" cx="1288.5" cy="679.0" rx="2.30" ry="3.30" transform="rotate(-10 1288.5 679.0)" style="stroke-width:1.1"/>
<path class="kt" d="M 1287.0,679.3 L 1290.1,678.8"/>
<path class="kt" d="M 1288.5,676.5 L 1288.8,681.5"/>
<ellipse class="k" cx="1284.0" cy="696.0" rx="1.30" ry="1.90" style="fill:#fff;stroke-width:0.8"/>
<path class="c" d="M 1255.5,704.5 L 1276.0,712.5"/>
<path class="c" d="M 1252.0,720.0 L 1267.0,729.0"/>
<ellipse class="k" cx="1277.2" cy="713.0" rx="2.90" ry="3.90" transform="rotate(20 1277.2 713.0)" style="fill:#2f3d47;stroke-width:1"/>
<ellipse class="k" cx="1277.2" cy="713.0" rx="1.20" ry="1.80" transform="rotate(20 1277.2 713.0)" style="fill:#7fc0e4;stroke:#1e9fd6;stroke-width:0.7"/>
<ellipse class="k" cx="1268.0" cy="729.5" rx="2.90" ry="3.90" transform="rotate(20 1268.0 729.5)" style="fill:#2f3d47;stroke-width:1"/>
<ellipse class="k" cx="1268.0" cy="729.5" rx="1.20" ry="1.80" transform="rotate(20 1268.0 729.5)" style="fill:#7fc0e4;stroke:#1e9fd6;stroke-width:0.7"/>
<path class="kw" style="stroke-width:1.15" d="M 1241.8,701.5 L 1254.9,706.2 L 1256.1,702.8 L 1243.0,698.1 Z"/>
<ellipse class="kf" cx="1241.2" cy="699.4" rx="2.70" ry="3.60" transform="rotate(19.536654938128386 1241.2 699.4)"/>
<ellipse class="kw" style="stroke-width:1.3" cx="1240.0" cy="699.0" rx="2.70" ry="3.60" transform="rotate(19.536654938128386 1240.0 699.0)"/>
<path class="kw" style="stroke-width:1.15" d="M 1239.6,714.2 L 1251.0,721.5 L 1253.0,718.5 L 1241.6,711.1 Z"/>
<ellipse class="kf" cx="1239.6" cy="712.0" rx="2.70" ry="3.60" transform="rotate(32.799531272619355 1239.6 712.0)"/>
<ellipse class="kw" style="stroke-width:1.3" cx="1238.5" cy="711.3" rx="2.70" ry="3.60" transform="rotate(32.799531272619355 1238.5 711.3)"/>
<path class="ld" d="M1200.0,700.8 L1228.7,708.6"/>
<path class="ah" d="M1234.0,710.0 L1228.2,710.2 L1229.1,706.9 Z"/>
<path class="ld" d="M1194.8,782.4 L1227.0,770.3"/>
<path class="ah" d="M1232.1,768.4 L1227.5,771.9 L1226.4,768.7 Z"/>
<path class="ld" d="M1319.6,787.4 L1311.6,761.1"/>
<path class="ah" d="M1310.0,755.8 L1313.2,760.6 L1310.0,761.6 Z"/>
<path d="M1292.3,177.9 L1292.3,174 Q1292.3,169.6 1298.2,169.4" fill="none" stroke="#000" stroke-width="2.5"/>
<path class="ah" d="M1302.4,169.4 L1298,166.2 L1298,172.8 Z"/>
<path d="M1295.2,562.6 L1295.2,559 Q1295.2,554.8 1289.6,554.5" fill="none" stroke="#000" stroke-width="2.5"/>
<path class="ah" d="M1285.6,554 L1290.2,551.2 L1289.6,557.8 Z"/>

</svg>
</body></html>
